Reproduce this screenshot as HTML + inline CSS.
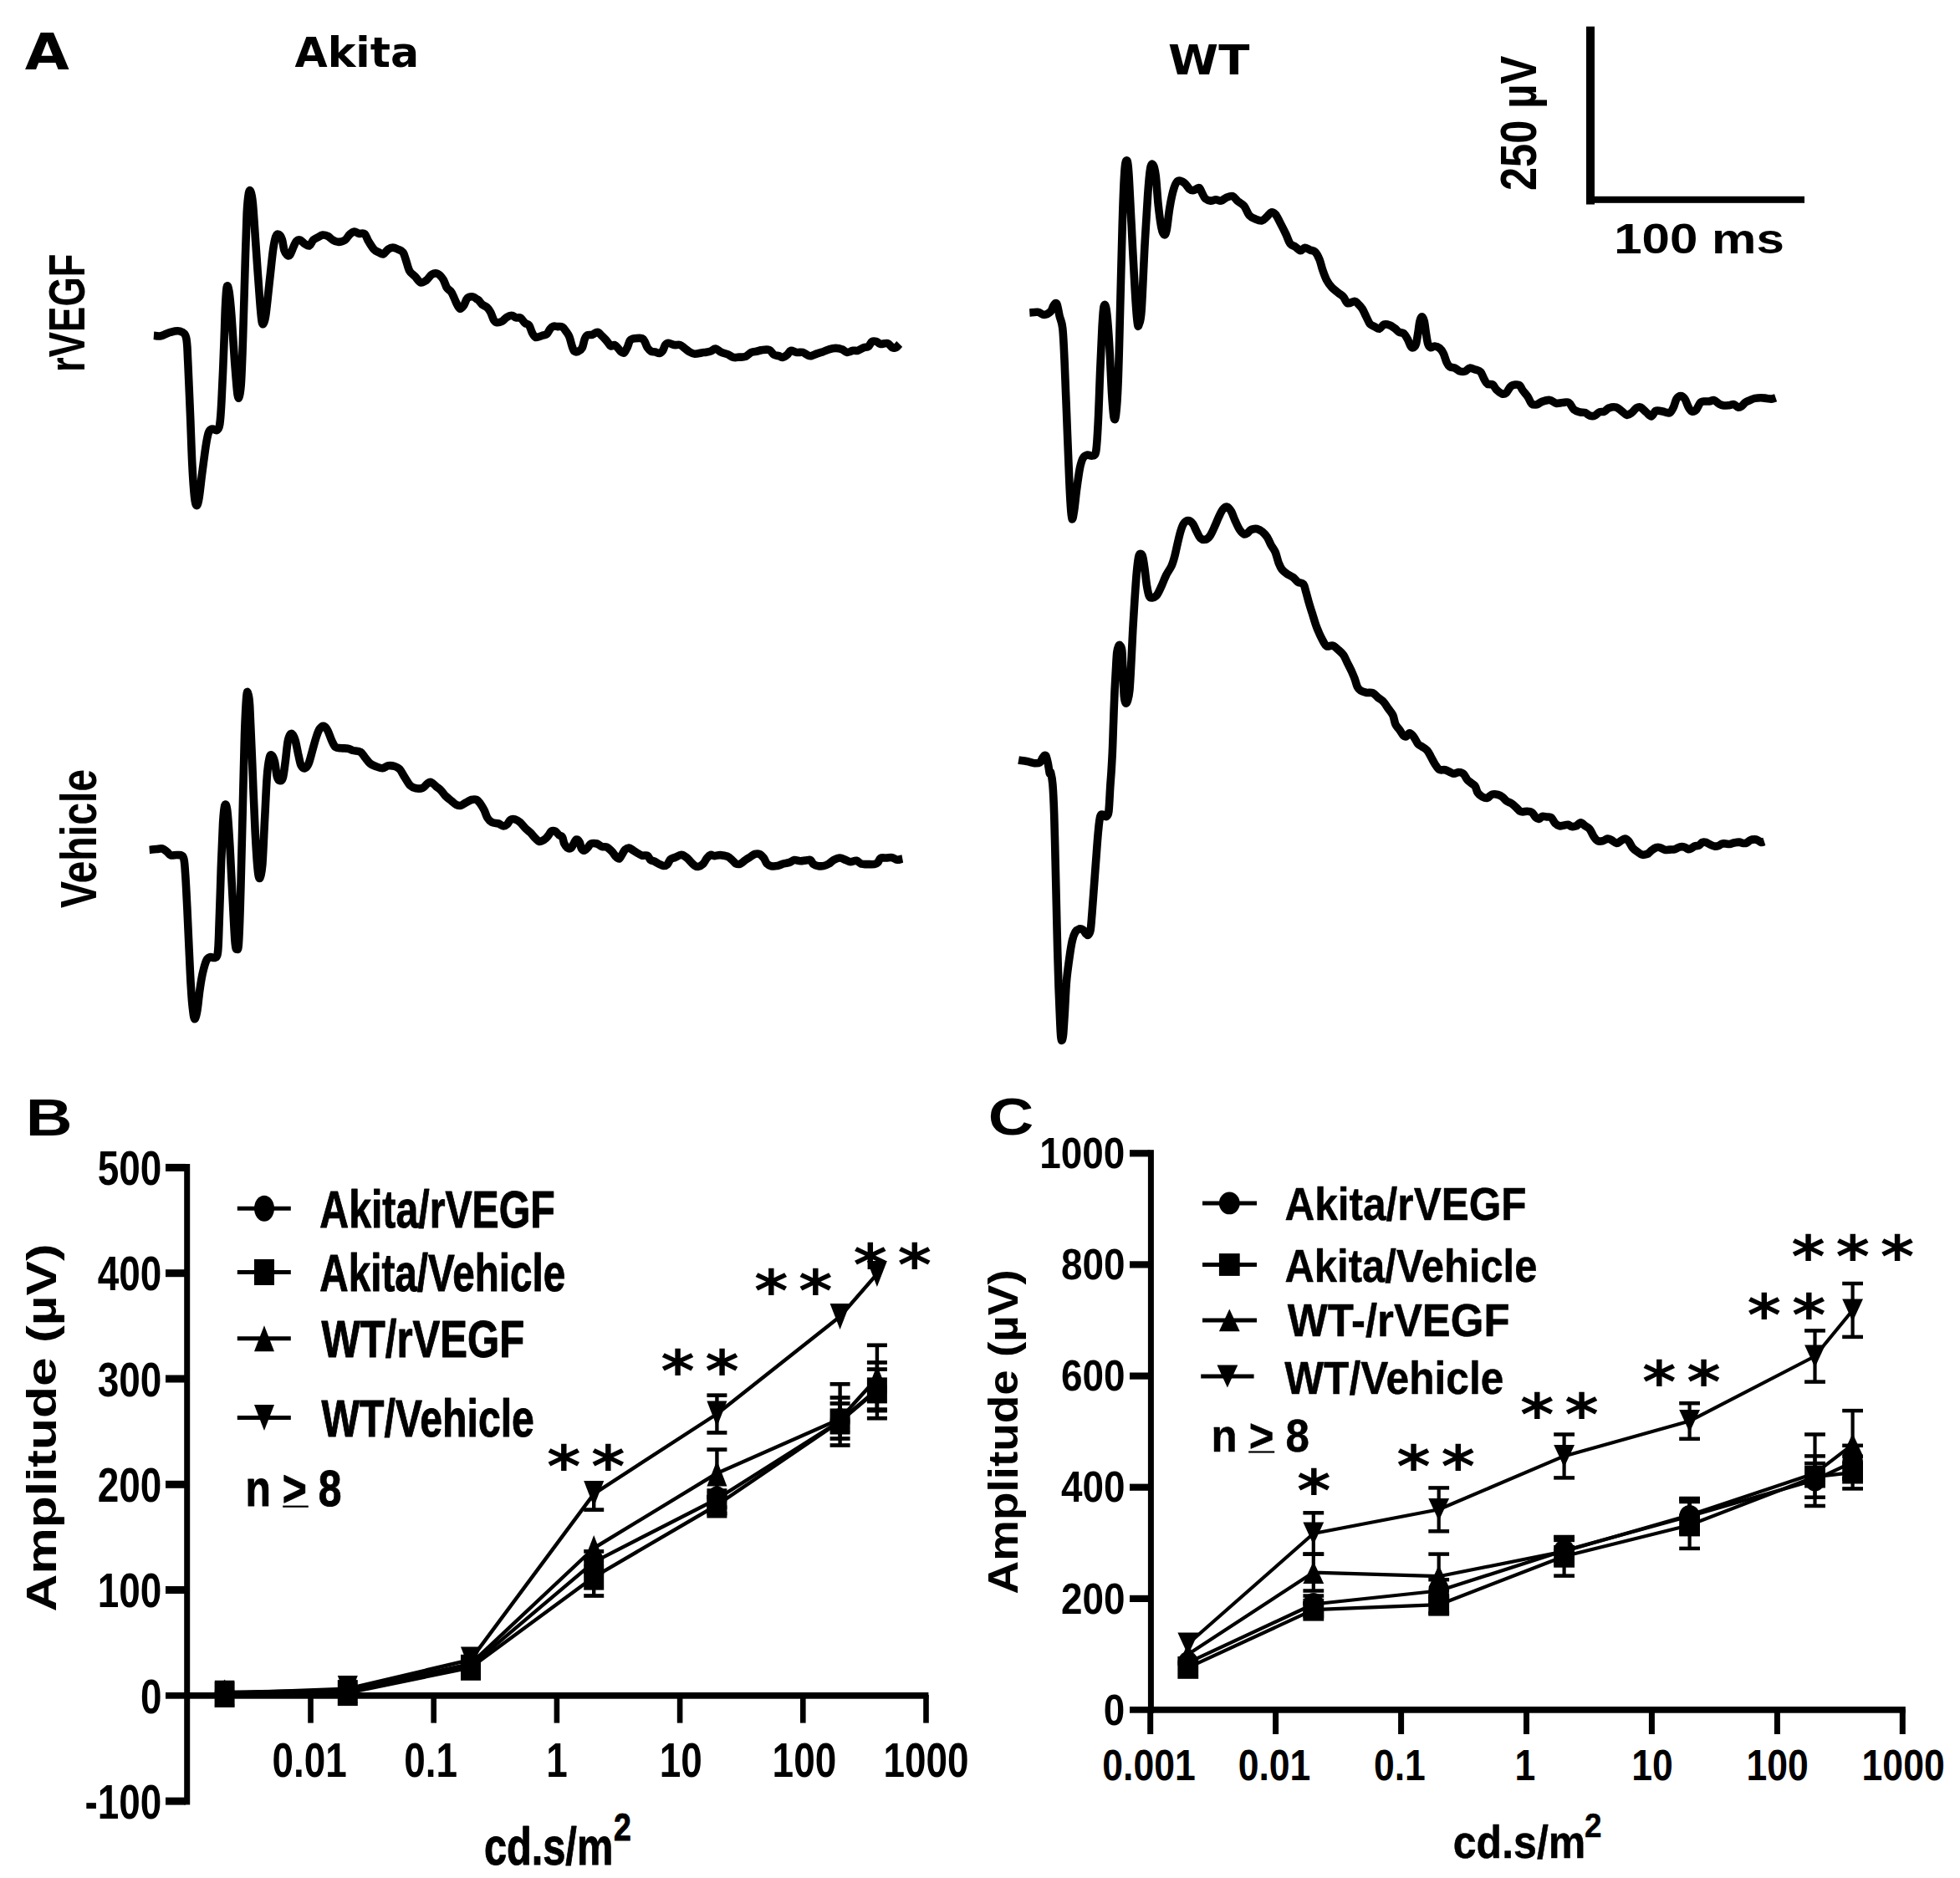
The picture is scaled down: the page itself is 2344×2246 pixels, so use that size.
<!DOCTYPE html>
<html><head><meta charset="utf-8"><title>Figure</title>
<style>
html,body{margin:0;padding:0;background:#fff;}
svg{display:block;}
text{fill:#000;}
</style></head>
<body>
<svg width="2344" height="2246" viewBox="0 0 2344 2246">
<rect x="0" y="0" width="2344" height="2246" fill="#fff"/>
<text x="29.7" y="82.6" font-family='"DejaVu Sans", "Liberation Sans", sans-serif' font-size="61.0" font-weight="bold" textLength="53.1" lengthAdjust="spacingAndGlyphs">A</text>
<text x="352.5" y="80.0" font-family='"DejaVu Sans", "Liberation Sans", sans-serif' font-size="49.2" font-weight="bold" textLength="148.6" lengthAdjust="spacingAndGlyphs">Akita</text>
<text x="1397.1" y="89.0" font-family='"DejaVu Sans", "Liberation Sans", sans-serif' font-size="49.0" font-weight="bold" textLength="97.3" lengthAdjust="spacingAndGlyphs">WT</text>
<text x="101.2" y="444.9" font-family='"Liberation Sans", sans-serif' font-size="62.0" font-weight="bold" textLength="141.5" lengthAdjust="spacingAndGlyphs" transform="rotate(-90 101.2 444.9)">rVEGF</text>
<text x="115.0" y="1086.1" font-family='"Liberation Sans", sans-serif' font-size="61.5" font-weight="bold" textLength="166.3" lengthAdjust="spacingAndGlyphs" transform="rotate(-90 115.0 1086.1)">Vehicle</text>
<rect x="1897.0" y="31.7" width="10.0" height="212.8" fill="#000"/>
<rect x="1897.0" y="234.8" width="261.0" height="8.0" fill="#000"/>
<text x="1837.5" y="228.1" font-family='"Liberation Sans", sans-serif' font-size="62.0" font-weight="bold" textLength="161.3" lengthAdjust="spacingAndGlyphs" transform="rotate(-90 1837.5 228.1)">250 µV</text>
<text x="1930.2" y="303.3" font-family='"Liberation Sans", sans-serif' font-size="50.8" font-weight="bold" textLength="203.6" lengthAdjust="spacingAndGlyphs">100 ms</text>
<path d="M183.9,401.2C185.3,401.3 189.1,402.5 192.4,401.8C195.6,401.2 199.8,398.3 203.5,397.4C207.3,396.4 211.6,395.0 214.7,396.0C217.9,397.0 220.9,397.1 222.5,403.4C224.2,409.7 223.9,417.4 224.8,433.6C225.6,449.8 226.8,480.2 227.7,500.7C228.5,521.2 229.1,540.9 229.9,556.6C230.7,572.2 231.7,586.6 232.6,594.6C233.5,602.6 234.4,604.6 235.3,604.6C236.2,604.6 237.2,600.7 238.2,594.6C239.2,588.4 240.2,577.8 241.5,567.7C242.9,557.7 244.7,542.6 246.0,534.2C247.3,525.8 248.1,521.0 249.4,517.4C250.7,513.9 252.2,513.4 253.8,513.0C255.5,512.5 257.9,515.5 259.4,514.5C260.9,513.6 261.9,513.4 262.8,507.4C263.7,501.3 264.2,494.3 265.0,478.3C265.9,462.3 267.2,429.9 267.9,411.2C268.7,392.6 268.9,377.9 269.5,366.5C270.1,355.1 270.5,346.0 271.3,343.0C272.0,340.1 273.0,342.8 274.0,348.6C274.9,354.4 275.8,363.5 276.9,377.7C278.0,391.9 279.5,417.9 280.7,433.6C281.9,449.2 283.1,464.9 284.0,471.6C285.0,478.3 285.5,476.4 286.3,473.8C287.0,471.2 287.8,468.2 288.5,455.9C289.2,443.7 290.0,422.4 290.7,400.1C291.5,377.7 292.2,346.0 293.0,321.8C293.7,297.6 294.5,269.8 295.2,254.7C296.0,239.6 296.7,235.5 297.4,231.2C298.2,227.0 298.9,227.0 299.7,229.0C300.5,231.1 301.2,231.8 302.4,243.5C303.5,255.3 305.0,279.7 306.4,299.4C307.8,319.2 309.7,347.9 310.9,362.0C312.0,376.2 312.4,380.3 313.1,384.4C313.8,388.5 314.5,388.1 315.3,386.6C316.2,385.1 316.9,383.3 318.0,375.5C319.1,367.6 320.6,352.4 322.0,339.7C323.5,327.0 325.2,308.9 326.5,299.4C327.8,289.9 328.7,285.8 329.9,282.7C331.0,279.5 332.0,279.9 333.2,280.4C334.4,281.0 336.1,282.9 337.2,286.0C338.4,289.2 338.9,296.3 339.9,299.4C340.9,302.6 342.2,304.1 343.3,305.0C344.4,306.0 345.3,306.7 346.6,305.0C347.9,303.3 349.8,297.8 351.1,295.0C352.4,292.2 353.2,289.6 354.5,288.3C355.8,287.0 357.3,286.6 358.9,287.1C360.6,287.7 362.7,290.5 364.5,291.6C366.4,292.7 368.4,294.6 370.1,293.8C371.8,293.1 372.9,288.8 374.6,287.1C376.3,285.5 378.3,284.8 380.2,283.8C382.0,282.8 383.7,281.3 385.8,281.1C387.8,280.9 390.4,281.7 392.5,282.7C394.5,283.7 396.0,286.0 398.1,287.1C400.1,288.3 402.3,289.4 404.8,289.4C407.2,289.4 410.4,288.6 412.6,287.1C414.8,285.6 416.3,282.1 418.2,280.4C420.0,278.8 421.9,277.3 423.8,277.1C425.6,276.9 427.3,278.9 429.4,279.3C431.4,279.8 434.2,278.3 436.1,279.8C437.9,281.3 438.7,285.2 440.5,288.3C442.4,291.3 445.2,296.1 447.2,298.3C449.3,300.6 451.0,300.7 452.8,301.7C454.7,302.6 456.6,304.5 458.4,303.9C460.3,303.3 462.2,299.6 464.0,298.3C465.9,297.0 467.6,296.1 469.6,296.1C471.7,296.1 474.3,297.4 476.3,298.3C478.4,299.2 480.4,299.6 481.9,301.7C483.4,303.7 484.0,306.9 485.3,310.6C486.6,314.3 487.9,320.7 489.7,324.0C491.6,327.4 494.2,328.4 496.4,330.7C498.7,333.0 500.9,337.1 503.1,337.9C505.4,338.6 507.6,336.8 509.9,335.2C512.1,333.6 514.3,329.4 516.6,328.1C518.8,326.8 521.0,326.4 523.3,327.4C525.5,328.4 528.1,331.3 530.0,334.1C531.8,336.9 532.8,341.5 534.4,344.2C536.1,346.8 538.2,346.8 540.0,349.7C541.9,352.7 544.0,358.8 545.6,362.0C547.3,365.3 548.6,368.6 550.1,369.2C551.6,369.8 553.1,367.5 554.6,365.4C556.1,363.3 557.2,358.2 559.0,356.5C560.9,354.7 563.9,354.7 565.8,354.9C567.6,355.1 568.9,356.9 570.0,357.6C571.1,358.2 571.0,357.8 572.1,358.9C573.3,360.0 575.1,362.9 576.7,364.3C578.4,365.7 580.4,365.8 582.1,367.3C583.8,368.9 585.3,370.9 586.7,373.5C588.1,376.0 589.2,380.6 590.5,382.7C591.8,384.7 592.7,385.5 594.3,385.7C596.0,386.0 598.5,385.2 600.5,384.2C602.4,383.2 603.9,380.7 605.8,379.6C607.7,378.4 610.0,377.2 611.9,377.3C613.9,377.3 615.5,379.4 617.3,379.9C619.1,380.4 620.9,379.3 622.7,380.4C624.4,381.5 626.4,385.1 628.0,386.5C629.7,387.9 631.2,386.9 632.6,388.8C634.0,390.7 635.2,395.5 636.4,398.0C637.7,400.4 638.9,402.6 640.3,403.3C641.7,404.1 643.3,402.9 644.8,402.6C646.4,402.2 647.9,401.5 649.4,401.0C651.0,400.5 652.6,400.8 654.0,399.5C655.4,398.2 656.6,394.9 657.9,393.4C659.1,391.8 660.2,390.8 661.7,390.3C663.2,389.8 665.3,390.5 667.0,390.6C668.8,390.7 670.7,390.1 672.4,391.1C674.1,392.0 675.6,394.5 677.0,396.4C678.4,398.3 679.7,399.7 680.8,402.6C682.0,405.4 682.9,410.3 683.9,413.3C684.9,416.2 685.7,419.0 686.9,420.2C688.2,421.3 690.0,420.8 691.5,420.2C693.1,419.5 694.8,418.8 696.1,416.3C697.4,413.9 698.2,408.2 699.2,405.6C700.2,403.1 700.7,401.9 702.2,401.0C703.8,400.1 706.3,400.9 708.4,400.3C710.4,399.6 712.7,397.1 714.5,397.2C716.3,397.3 717.6,399.6 719.1,401.0C720.6,402.4 722.3,404.1 723.7,405.6C725.1,407.1 726.4,408.8 727.5,410.2C728.6,411.6 729.3,413.6 730.6,414.0C731.8,414.4 733.8,412.1 735.2,412.5C736.6,412.9 737.7,414.9 739.0,416.3C740.3,417.7 741.5,420.0 742.8,420.9C744.1,421.8 745.4,422.7 746.6,421.7C747.9,420.7 749.3,417.2 750.5,414.8C751.6,412.4 752.1,408.8 753.5,407.1C754.9,405.5 756.5,405.2 758.9,404.8C761.3,404.5 766.0,404.2 768.1,404.8C770.1,405.5 770.1,406.9 771.1,408.7C772.1,410.5 772.9,413.6 774.2,415.6C775.5,417.5 777.2,419.3 778.8,420.2C780.3,421.0 781.7,420.5 783.4,420.9C785.0,421.3 787.2,422.7 788.7,422.4C790.3,422.2 791.4,421.0 792.6,419.4C793.7,417.7 794.5,414.0 795.6,412.5C796.8,411.0 797.7,410.2 799.4,410.2C801.2,410.2 804.0,412.1 806.3,412.5C808.6,412.9 811.2,411.9 813.2,412.5C815.3,413.1 816.7,414.9 818.6,416.3C820.5,417.7 822.7,419.8 824.7,420.9C826.7,422.1 828.3,423.1 830.8,423.2C833.4,423.3 838.0,422.0 840.0,421.7C842.0,421.4 841.2,421.7 842.9,421.4C844.5,421.1 847.9,420.7 850.0,420.0C852.1,419.3 853.6,416.9 855.7,417.1C857.9,417.4 860.5,420.4 862.9,421.4C865.2,422.5 867.6,422.6 870.0,423.6C872.4,424.6 874.8,426.8 877.1,427.4C879.5,428.0 881.9,427.3 884.3,427.1C886.7,427.0 889.0,427.4 891.4,426.4C893.8,425.5 896.2,422.5 898.6,421.4C901.0,420.4 903.6,420.5 905.7,420.0C907.9,419.5 909.0,418.8 911.4,418.6C913.8,418.3 917.6,417.6 920.0,418.6C922.4,419.5 923.8,423.1 925.7,424.3C927.6,425.5 929.8,425.2 931.4,425.7C933.1,426.2 934.0,427.7 935.7,427.4C937.4,427.2 939.8,425.6 941.4,424.3C943.1,422.9 943.8,419.8 945.7,419.3C947.6,418.8 950.5,421.1 952.9,421.4C955.2,421.8 957.9,420.9 960.0,421.4C962.1,422.0 964.0,423.9 965.7,424.6C967.4,425.3 968.1,426.0 970.0,425.7C971.9,425.4 974.8,423.7 977.1,422.9C979.5,422.0 981.9,421.5 984.3,420.7C986.7,419.9 988.9,418.6 991.4,417.9C993.9,417.1 996.7,416.4 999.3,416.4C1001.9,416.4 1004.9,417.0 1007.1,417.9C1009.4,418.7 1010.7,421.2 1012.9,421.4C1015.0,421.7 1017.9,419.6 1020.0,419.3C1022.1,418.9 1023.6,419.9 1025.7,419.3C1027.9,418.7 1030.7,416.5 1032.9,415.7C1035.0,414.9 1036.9,415.5 1038.6,414.3C1040.2,413.1 1041.2,409.5 1042.9,408.6C1044.5,407.6 1046.9,408.1 1048.6,408.6C1050.2,409.0 1050.7,411.1 1052.9,411.4C1055.0,411.8 1059.0,410.0 1061.4,410.7C1063.8,411.4 1065.5,414.9 1067.1,415.7C1068.8,416.5 1070.0,416.4 1071.4,415.7C1072.9,415.0 1075.0,412.1 1075.7,411.4" fill="none" stroke="#000" stroke-width="9.6" stroke-linejoin="round" stroke-linecap="butt"/>
<path d="M1231.3,374.0C1232.9,373.9 1238.4,372.8 1241.3,373.3C1244.2,373.7 1246.3,376.6 1248.8,376.5C1251.3,376.4 1254.4,374.6 1256.3,372.8C1258.2,370.9 1258.8,366.8 1260.1,365.2C1261.3,363.7 1262.6,361.2 1263.8,363.2C1265.0,365.3 1265.9,372.8 1267.1,377.8C1268.2,382.7 1269.8,383.6 1270.8,392.8C1271.8,402.0 1272.3,415.7 1273.1,432.8C1273.9,449.9 1274.7,474.5 1275.6,495.4C1276.4,516.3 1277.3,540.5 1278.1,558.0C1278.8,575.5 1279.4,590.1 1280.1,600.5C1280.7,611.0 1281.3,618.9 1282.1,620.6C1282.8,622.2 1283.7,616.4 1284.6,610.6C1285.5,604.7 1286.5,593.9 1287.6,585.5C1288.7,577.2 1290.1,566.7 1291.3,560.5C1292.6,554.2 1293.6,550.7 1295.1,548.0C1296.6,545.3 1298.2,544.7 1300.1,544.2C1302.0,543.7 1304.6,545.6 1306.4,545.0C1308.1,544.3 1309.5,546.6 1310.6,540.5C1311.7,534.3 1312.3,523.8 1313.1,507.9C1314.0,492.1 1314.8,465.0 1315.6,445.3C1316.5,425.7 1317.4,403.4 1318.1,390.3C1318.9,377.1 1319.3,369.8 1320.1,366.5C1321.0,363.2 1322.1,363.4 1323.1,370.3C1324.2,377.1 1325.3,391.1 1326.4,407.8C1327.5,424.5 1328.7,455.1 1329.6,470.4C1330.6,485.6 1331.3,495.0 1332.1,499.2C1333.0,503.3 1333.8,502.3 1334.6,495.4C1335.5,488.5 1336.3,478.7 1337.1,457.9C1338.0,437.0 1338.8,401.5 1339.6,370.3C1340.5,339.0 1341.3,297.2 1342.2,270.1C1343.0,243.0 1343.8,220.6 1344.7,207.5C1345.5,194.5 1346.3,192.4 1347.2,192.0C1348.0,191.6 1348.7,192.0 1349.7,205.0C1350.7,218.1 1351.9,246.8 1353.2,270.1C1354.4,293.5 1356.0,326.0 1357.2,345.2C1358.3,364.4 1359.3,378.2 1360.2,385.3C1361.0,392.4 1361.3,390.3 1362.2,387.8C1363.0,385.3 1364.1,385.7 1365.2,370.3C1366.3,354.8 1367.7,318.1 1368.9,295.2C1370.2,272.2 1371.6,248.2 1372.7,232.6C1373.8,216.9 1374.7,207.2 1375.7,201.3C1376.7,195.4 1377.9,195.6 1378.9,197.0C1380.0,198.5 1381.2,202.0 1382.2,210.1C1383.2,218.1 1384.1,234.7 1385.2,245.1C1386.3,255.5 1387.8,266.7 1389.0,272.6C1390.1,278.6 1391.2,280.2 1392.2,280.6C1393.3,281.1 1394.1,280.6 1395.2,275.1C1396.3,269.6 1397.5,255.9 1399.0,247.6C1400.4,239.3 1402.3,230.3 1404.0,225.1C1405.6,219.9 1406.9,217.4 1409.0,216.3C1411.1,215.3 1414.2,217.1 1416.5,218.8C1418.8,220.5 1420.9,224.9 1422.8,226.3C1424.6,227.8 1425.9,227.9 1427.8,227.6C1429.6,227.3 1432.3,223.9 1434.0,224.6C1435.7,225.2 1436.5,229.2 1437.8,231.3C1439.0,233.5 1439.9,236.1 1441.5,237.6C1443.2,239.0 1445.7,239.9 1447.8,240.1C1449.9,240.3 1452.0,238.8 1454.0,238.8C1456.1,238.8 1458.2,240.5 1460.3,240.1C1462.4,239.7 1464.3,237.3 1466.6,236.3C1468.9,235.4 1471.8,233.9 1474.1,234.6C1476.4,235.3 1478.0,238.6 1480.3,240.6C1482.6,242.5 1485.5,243.5 1487.8,246.3C1490.1,249.2 1491.8,255.0 1494.1,257.6C1496.4,260.2 1499.1,261.1 1501.6,262.1C1504.1,263.2 1506.8,264.4 1509.1,263.9C1511.4,263.3 1513.5,260.5 1515.4,258.9C1517.2,257.2 1518.7,254.3 1520.4,253.9C1522.0,253.4 1523.5,254.1 1525.4,256.4C1527.3,258.7 1529.6,263.7 1531.6,267.6C1533.7,271.6 1536.0,276.2 1537.9,280.1C1539.8,284.1 1541.0,288.9 1542.9,291.4C1544.8,293.9 1547.1,293.8 1549.2,295.2C1551.2,296.5 1553.5,299.5 1555.4,299.7C1557.3,299.9 1558.5,296.5 1560.4,296.4C1562.3,296.3 1564.6,298.1 1566.7,298.9C1568.8,299.7 1571.1,299.5 1572.9,301.4C1574.8,303.3 1576.5,306.6 1577.9,310.2C1579.4,313.7 1580.2,318.5 1581.7,322.7C1583.2,326.9 1584.8,331.7 1586.7,335.2C1588.6,338.8 1590.7,341.5 1593.0,344.0C1595.3,346.5 1598.2,348.3 1600.5,350.2C1602.8,352.1 1604.9,353.1 1606.7,355.2C1608.6,357.3 1609.5,361.9 1611.7,362.7C1614.0,363.6 1618.0,360.2 1620.0,360.2C1622.0,360.3 1622.2,361.4 1623.7,362.9C1625.2,364.3 1627.4,366.4 1629.0,369.0C1630.7,371.5 1632.1,375.1 1633.6,378.2C1635.2,381.2 1636.6,385.3 1638.2,387.3C1639.9,389.4 1641.7,389.4 1643.6,390.4C1645.5,391.4 1647.8,393.5 1649.7,393.2C1651.6,392.8 1653.0,388.8 1655.1,388.1C1657.1,387.4 1659.8,388.1 1661.9,388.9C1664.1,389.6 1666.1,391.3 1668.1,392.7C1670.0,394.1 1671.6,396.3 1673.4,397.3C1675.2,398.3 1677.1,397.4 1678.8,398.8C1680.4,400.2 1682.0,403.2 1683.4,405.7C1684.8,408.3 1686.0,412.5 1687.2,414.1C1688.3,415.8 1689.2,416.0 1690.3,415.7C1691.3,415.3 1692.4,414.5 1693.3,411.8C1694.2,409.2 1694.8,404.2 1695.6,399.6C1696.4,395.0 1697.1,387.7 1697.9,384.3C1698.7,380.8 1699.6,378.9 1700.5,378.9C1701.4,378.9 1702.4,380.8 1703.3,384.3C1704.1,387.7 1704.8,395.0 1705.6,399.6C1706.3,404.2 1707.0,409.2 1707.9,411.8C1708.8,414.5 1709.6,415.3 1710.9,415.7C1712.2,416.0 1713.7,414.0 1715.5,414.1C1717.3,414.3 1719.8,415.0 1721.6,416.4C1723.4,417.8 1724.8,419.7 1726.2,422.6C1727.6,425.4 1728.8,430.6 1730.1,433.3C1731.3,435.9 1732.2,437.5 1733.9,438.6C1735.5,439.8 1738.0,439.3 1740.0,440.2C1742.0,441.0 1744.1,443.3 1746.1,444.0C1748.2,444.6 1750.3,444.6 1752.2,444.0C1754.2,443.3 1755.6,440.5 1757.6,440.2C1759.6,439.8 1762.3,441.4 1764.5,442.1C1766.7,442.9 1768.8,442.8 1770.6,444.7C1772.4,446.7 1773.8,451.5 1775.2,453.9C1776.6,456.4 1777.4,458.3 1779.0,459.3C1780.7,460.3 1783.4,458.9 1785.2,460.1C1786.9,461.2 1788.0,464.4 1789.7,466.2C1791.5,468.0 1794.0,470.1 1795.9,470.8C1797.8,471.4 1799.3,471.5 1801.2,470.0C1803.1,468.5 1804.8,463.2 1807.3,461.6C1809.9,460.0 1814.2,459.6 1816.5,460.5C1818.8,461.4 1819.3,464.6 1821.1,466.9C1822.9,469.3 1825.5,471.9 1827.2,474.6C1829.0,477.3 1830.1,481.5 1831.8,483.0C1833.6,484.5 1835.9,484.2 1838.0,483.8C1840.0,483.3 1841.5,481.3 1844.1,480.4C1846.6,479.5 1850.5,478.1 1853.3,478.4C1856.1,478.7 1858.4,481.7 1860.9,482.2C1863.5,482.8 1866.0,481.6 1868.6,481.5C1871.1,481.4 1873.9,480.1 1876.2,481.5C1878.5,482.9 1880.1,488.0 1882.3,489.9C1884.6,491.8 1887.8,492.3 1890.0,493.0C1892.2,493.6 1893.8,492.9 1895.7,493.6C1897.6,494.3 1899.5,496.5 1901.4,497.1C1903.3,497.7 1905.2,497.9 1907.1,497.1C1909.0,496.4 1911.0,493.7 1912.9,492.9C1914.8,492.0 1916.7,493.0 1918.6,492.1C1920.5,491.3 1921.9,488.7 1924.3,487.9C1926.7,487.0 1930.2,486.4 1932.9,487.1C1935.5,487.9 1937.9,490.6 1940.0,492.1C1942.1,493.7 1943.8,496.2 1945.7,496.4C1947.6,496.7 1949.5,495.0 1951.4,493.6C1953.3,492.1 1955.4,488.9 1957.1,487.9C1958.9,486.8 1960.2,486.3 1962.1,487.1C1964.0,488.0 1966.4,491.1 1968.6,492.9C1970.7,494.6 1973.1,498.1 1975.0,497.9C1976.9,497.6 1978.2,492.5 1980.0,491.4C1981.8,490.4 1983.8,491.2 1985.7,491.4C1987.6,491.7 1989.5,492.5 1991.4,492.9C1993.3,493.2 1995.5,494.5 1997.1,493.6C1998.8,492.6 2000.1,489.9 2001.4,487.1C2002.7,484.4 2003.6,479.4 2005.0,477.1C2006.4,474.9 2008.3,473.6 2010.0,473.6C2011.7,473.6 2013.5,474.9 2015.0,477.1C2016.5,479.4 2017.9,484.6 2019.3,487.1C2020.7,489.6 2022.0,491.7 2023.6,492.1C2025.1,492.6 2026.9,491.8 2028.6,490.0C2030.2,488.2 2031.9,483.1 2033.6,481.4C2035.2,479.8 2036.8,480.2 2038.6,480.0C2040.4,479.8 2042.4,480.2 2044.3,480.0C2046.2,479.8 2048.1,478.1 2050.0,478.6C2051.9,479.0 2053.8,481.8 2055.7,482.9C2057.6,483.9 2059.3,484.7 2061.4,485.0C2063.6,485.3 2066.5,484.8 2068.6,484.6C2070.6,484.3 2071.9,483.1 2073.6,483.6C2075.2,484.0 2077.0,486.8 2078.6,487.1C2080.1,487.5 2081.4,486.7 2082.9,485.7C2084.3,484.8 2085.5,482.6 2087.1,481.4C2088.8,480.2 2091.0,479.4 2092.9,478.6C2094.8,477.7 2096.4,476.9 2098.6,476.4C2100.7,476.0 2103.3,475.7 2105.7,475.7C2108.1,475.7 2110.7,476.2 2112.9,476.4C2115.0,476.7 2116.8,477.3 2118.6,477.1C2120.4,477.0 2122.7,476.0 2123.6,475.7" fill="none" stroke="#000" stroke-width="9.6" stroke-linejoin="round" stroke-linecap="butt"/>
<path d="M178.7,1016.5C180.1,1016.4 184.6,1015.9 187.2,1015.6C189.7,1015.3 191.9,1014.4 194.0,1014.9C196.1,1015.5 198.0,1017.5 199.8,1018.8C201.5,1020.2 202.2,1022.3 204.3,1022.9C206.4,1023.5 209.9,1022.1 212.4,1022.5C214.8,1022.9 217.7,1021.7 219.2,1025.2C220.8,1028.7 220.8,1033.6 221.5,1043.5C222.3,1053.5 223.0,1069.5 223.8,1084.8C224.6,1100.0 225.3,1119.1 226.1,1135.1C226.9,1151.2 227.6,1168.7 228.4,1180.9C229.1,1193.1 229.9,1202.1 230.7,1208.4C231.4,1214.7 232.1,1218.7 233.0,1218.7C233.8,1218.7 235.0,1213.9 235.9,1208.4C236.9,1202.9 237.7,1192.8 238.7,1185.5C239.7,1178.3 240.8,1171.0 242.1,1164.9C243.5,1158.8 245.2,1152.2 246.7,1148.9C248.2,1145.5 249.6,1145.3 251.3,1144.7C253.0,1144.2 255.5,1146.3 257.0,1145.4C258.5,1144.6 259.6,1146.0 260.4,1139.7C261.3,1133.4 261.4,1124.4 262.0,1107.7C262.7,1090.9 263.6,1059.6 264.3,1039.0C265.1,1018.4 265.9,996.7 266.6,984.0C267.4,971.3 268.0,965.2 268.9,962.9C269.8,960.7 270.9,962.2 271.9,970.3C272.9,978.4 273.8,994.3 274.9,1011.5C275.9,1028.7 277.0,1054.2 278.1,1073.3C279.1,1092.4 280.2,1115.7 281.0,1126.0C281.9,1136.3 282.6,1135.1 283.3,1135.1C284.1,1135.1 284.9,1138.2 285.6,1126.0C286.4,1113.8 287.2,1087.8 287.9,1061.9C288.7,1035.9 289.4,1000.8 290.2,970.3C291.0,939.7 291.7,901.6 292.5,878.7C293.3,855.8 294.1,841.1 294.8,832.9C295.5,824.7 296.0,827.6 296.6,829.5C297.3,831.4 297.8,830.4 298.7,844.3C299.5,858.3 300.6,888.2 301.7,913.0C302.7,937.8 304.0,972.2 305.1,993.2C306.2,1014.2 307.1,1029.4 308.1,1039.0C309.0,1048.5 309.9,1051.2 310.8,1050.4C311.8,1049.6 312.8,1045.8 313.8,1034.4C314.7,1022.9 315.6,999.3 316.5,981.7C317.5,964.2 318.3,941.7 319.3,929.1C320.2,916.5 321.3,910.4 322.3,906.2C323.3,901.9 324.2,902.7 325.2,903.4C326.3,904.2 327.4,906.5 328.4,910.7C329.5,915.0 330.4,925.2 331.4,929.1C332.4,932.9 333.3,933.4 334.4,933.6C335.5,933.8 337.1,934.0 338.3,930.2C339.4,926.4 340.3,917.8 341.3,910.7C342.2,903.7 343.1,893.2 344.0,887.8C344.9,882.5 345.8,880.3 346.8,878.7C347.7,877.1 348.7,877.1 349.7,878.2C350.8,879.4 352.0,881.7 353.2,885.6C354.3,889.5 355.5,896.6 356.6,901.6C357.8,906.5 358.7,912.5 360.0,915.3C361.4,918.2 363.1,919.1 364.6,918.8C366.1,918.4 367.7,916.7 369.2,913.0C370.7,909.4 372.3,902.3 373.8,897.0C375.3,891.7 376.9,885.3 378.4,881.0C379.8,876.7 381.0,873.5 382.5,871.4C384.0,869.3 385.9,867.9 387.5,868.4C389.1,868.8 390.6,871.2 392.1,874.1C393.6,877.0 395.1,882.3 396.7,885.6C398.2,888.8 399.3,892.0 401.3,893.6C403.2,895.1 405.6,894.4 408.1,894.7C410.6,895.0 413.8,894.7 416.1,895.2C418.4,895.6 419.4,896.8 421.9,897.5C424.3,898.2 428.5,897.8 431.0,899.3C433.5,900.7 434.8,903.9 436.7,906.2C438.7,908.5 440.4,911.3 442.5,913.0C444.6,914.8 446.9,915.5 449.3,916.5C451.8,917.4 454.9,918.9 457.3,918.8C459.8,918.6 461.7,916.2 464.2,915.8C466.7,915.4 469.9,915.8 472.2,916.5C474.5,917.2 476.0,917.8 478.0,919.9C479.9,922.0 481.6,925.8 483.7,929.1C485.8,932.3 488.3,937.1 490.5,939.4C492.8,941.7 494.9,942.3 497.4,942.8C499.9,943.3 503.1,943.3 505.4,942.3C507.7,941.4 509.4,938.2 511.2,937.1C512.9,935.9 514.0,934.9 515.7,935.5C517.5,936.0 519.6,938.9 521.5,940.5C523.4,942.1 525.3,943.2 527.2,945.1C529.1,947.0 530.8,949.9 532.9,952.0C535.0,954.1 537.7,956.0 539.8,957.7C541.9,959.4 543.6,961.3 545.5,962.3C547.4,963.2 549.3,963.8 551.2,963.4C553.1,963.0 554.9,961.1 556.9,960.0C559.0,958.8 561.6,957.1 563.8,956.5C566.0,956.0 568.2,955.8 570.0,956.5C571.8,957.3 573.0,959.2 574.5,961.2C576.0,963.3 577.7,966.1 579.1,968.9C580.5,971.7 581.4,975.6 582.9,978.1C584.4,980.5 586.1,982.3 588.3,983.4C590.4,984.6 593.6,984.2 595.9,984.9C598.2,985.7 600.3,987.9 602.0,988.0C603.8,988.1 605.2,987.0 606.6,985.7C608.0,984.4 608.9,981.3 610.5,980.4C612.0,979.4 613.9,979.4 615.8,979.9C617.7,980.4 619.9,981.7 621.9,983.4C624.0,985.2 626.0,988.3 628.1,990.3C630.1,992.3 632.1,993.6 634.2,995.7C636.2,997.7 638.5,1000.8 640.3,1002.6C642.1,1004.3 643.1,1006.1 644.9,1006.4C646.7,1006.6 649.2,1005.2 651.0,1004.1C652.8,1002.9 654.2,1001.1 655.6,999.5C657.0,997.8 658.0,995.0 659.4,994.1C660.8,993.2 662.5,993.4 664.0,994.1C665.6,994.9 667.2,997.6 668.6,998.7C670.0,999.9 671.4,999.4 672.4,1001.0C673.5,1002.7 673.7,1006.5 674.7,1008.7C675.8,1010.8 677.2,1013.1 678.6,1014.0C680.0,1014.9 681.9,1014.9 683.2,1014.0C684.4,1013.1 685.2,1010.3 686.2,1008.7C687.2,1007.0 688.1,1004.3 689.3,1004.1C690.4,1003.8 692.1,1005.4 693.1,1007.1C694.1,1008.9 694.4,1013.1 695.4,1014.8C696.4,1016.5 698.0,1017.3 699.2,1017.1C700.5,1016.8 701.8,1014.6 703.1,1013.3C704.3,1011.9 705.1,1009.7 706.9,1009.0C708.7,1008.3 711.6,1008.4 713.8,1009.0C715.9,1009.6 717.9,1011.8 719.9,1012.5C721.9,1013.2 724.0,1012.2 726.0,1013.3C728.1,1014.3 730.4,1016.7 732.1,1018.6C733.9,1020.5 735.3,1023.3 736.7,1024.7C738.1,1026.1 739.4,1027.4 740.6,1027.0C741.7,1026.7 742.5,1024.2 743.6,1022.4C744.8,1020.7 746.0,1017.7 747.4,1016.3C748.9,1014.9 750.4,1013.9 752.0,1014.0C753.7,1014.2 755.5,1015.9 757.4,1017.1C759.3,1018.2 761.7,1019.9 763.5,1020.9C765.3,1021.9 766.3,1022.8 768.1,1023.2C769.9,1023.6 772.6,1022.3 774.2,1023.2C775.9,1024.1 776.7,1027.4 778.1,1028.6C779.5,1029.7 781.0,1029.3 782.7,1030.1C784.3,1030.9 786.2,1032.3 788.0,1033.2C789.8,1034.1 791.7,1035.3 793.4,1035.5C795.0,1035.6 796.6,1035.2 798.0,1033.9C799.4,1032.7 800.3,1029.2 801.8,1027.8C803.3,1026.4 805.0,1026.4 807.1,1025.5C809.3,1024.6 812.5,1022.4 814.8,1022.4C817.1,1022.4 819.1,1024.2 820.9,1025.5C822.7,1026.8 824.0,1028.6 825.5,1030.1C827.0,1031.6 828.6,1033.6 830.1,1034.7C831.6,1035.8 832.9,1036.8 834.7,1036.5C836.5,1036.3 839.0,1034.9 840.8,1033.2C842.6,1031.5 843.9,1028.1 845.4,1026.3C846.9,1024.5 848.5,1022.9 850.0,1022.4C851.5,1022.0 852.4,1023.6 854.3,1023.6C856.2,1023.6 858.8,1022.5 861.4,1022.6C864.0,1022.7 867.6,1023.3 870.0,1024.3C872.4,1025.3 874.0,1027.1 875.7,1028.6C877.4,1030.0 878.3,1032.1 880.0,1032.9C881.7,1033.6 883.8,1033.6 885.7,1032.9C887.6,1032.1 889.5,1029.9 891.4,1028.6C893.3,1027.3 895.2,1026.2 897.1,1025.0C899.0,1023.8 901.0,1022.0 902.9,1021.4C904.8,1020.9 906.8,1020.9 908.6,1021.7C910.4,1022.5 912.1,1024.6 913.6,1026.4C915.0,1028.3 915.7,1031.3 917.1,1032.9C918.6,1034.4 920.0,1035.3 922.1,1035.7C924.3,1036.1 927.5,1035.9 930.0,1035.4C932.5,1035.0 934.8,1033.5 937.1,1032.9C939.5,1032.2 942.1,1032.1 944.3,1031.4C946.4,1030.7 947.9,1028.9 950.0,1028.6C952.1,1028.3 954.8,1029.7 957.1,1029.7C959.5,1029.8 962.3,1029.0 964.3,1028.9C966.3,1028.7 967.9,1027.8 969.3,1028.6C970.7,1029.4 971.3,1032.4 972.9,1033.6C974.4,1034.8 976.4,1035.4 978.6,1035.7C980.7,1036.0 983.6,1035.9 985.7,1035.4C987.9,1035.0 989.5,1034.0 991.4,1032.9C993.3,1031.7 995.0,1029.7 997.1,1028.6C999.3,1027.4 1001.9,1026.0 1004.3,1026.0C1006.7,1026.0 1009.3,1027.8 1011.4,1028.6C1013.6,1029.4 1015.0,1030.6 1017.1,1030.7C1019.3,1030.8 1022.1,1028.9 1024.3,1029.3C1026.4,1029.7 1027.9,1032.4 1030.0,1033.1C1032.1,1033.9 1034.5,1033.5 1037.1,1033.6C1039.8,1033.6 1043.6,1033.9 1045.7,1033.6C1047.9,1033.2 1048.8,1032.6 1050.0,1031.4C1051.2,1030.2 1051.2,1027.3 1052.9,1026.4C1054.5,1025.5 1057.6,1026.1 1060.0,1026.0C1062.4,1025.9 1065.0,1025.3 1067.1,1025.7C1069.3,1026.1 1070.8,1028.1 1072.9,1028.3C1074.9,1028.5 1078.2,1027.1 1079.3,1026.9" fill="none" stroke="#000" stroke-width="9.6" stroke-linejoin="round" stroke-linecap="butt"/>
<path d="M1218.1,909.0C1219.8,909.3 1224.9,909.9 1228.1,910.5C1231.3,911.1 1234.6,912.4 1237.2,912.7C1239.7,912.9 1241.8,913.0 1243.5,911.9C1245.2,910.8 1245.9,907.3 1247.1,906.0C1248.3,904.6 1249.7,902.2 1250.7,903.6C1251.8,905.0 1252.7,910.5 1253.5,914.1C1254.2,917.7 1254.8,923.4 1255.3,925.0C1255.8,926.5 1255.9,921.4 1256.5,923.6C1257.1,925.8 1258.2,929.7 1258.9,938.1C1259.6,946.6 1260.2,959.2 1260.7,974.3C1261.2,989.4 1261.7,1010.5 1262.1,1028.6C1262.6,1046.7 1263.0,1064.8 1263.4,1083.0C1263.8,1101.1 1264.2,1120.7 1264.7,1137.3C1265.1,1153.9 1265.6,1169.0 1266.1,1182.5C1266.6,1196.1 1267.1,1209.1 1267.6,1218.8C1268.0,1228.4 1268.4,1236.3 1268.8,1240.5C1269.3,1244.7 1269.7,1244.7 1270.1,1244.1C1270.6,1243.5 1271.0,1242.6 1271.6,1236.9C1272.1,1231.1 1272.7,1220.3 1273.4,1209.7C1274.0,1199.1 1274.6,1184.0 1275.5,1173.5C1276.4,1162.9 1277.7,1154.5 1278.8,1146.3C1279.9,1138.2 1281.2,1129.9 1282.4,1124.6C1283.6,1119.3 1284.7,1116.9 1286.0,1114.6C1287.4,1112.4 1289.1,1111.5 1290.6,1111.0C1292.1,1110.6 1293.8,1111.0 1295.1,1111.9C1296.4,1112.8 1297.3,1115.4 1298.4,1116.5C1299.4,1117.5 1300.5,1119.0 1301.4,1118.3C1302.4,1117.5 1303.4,1116.3 1304.2,1111.9C1304.9,1107.5 1305.2,1101.4 1306.0,1092.0C1306.7,1082.7 1307.8,1067.9 1308.7,1055.8C1309.6,1043.7 1310.6,1030.1 1311.4,1019.6C1312.2,1009.0 1312.8,999.7 1313.6,992.4C1314.3,985.2 1314.9,979.1 1315.9,976.1C1316.9,973.1 1318.3,974.3 1319.5,974.3C1320.7,974.4 1322.1,977.1 1323.2,976.5C1324.2,975.9 1325.1,976.5 1325.9,970.7C1326.6,964.9 1327.2,949.6 1327.7,941.7C1328.2,933.9 1328.5,930.9 1329.0,923.6C1329.4,916.3 1330.0,908.1 1330.4,897.8C1330.9,887.5 1331.2,873.7 1331.7,861.6C1332.1,849.5 1332.6,835.9 1333.1,825.4C1333.6,814.8 1334.1,805.8 1334.6,798.2C1335.0,790.7 1335.3,784.3 1335.8,780.1C1336.4,775.9 1337.0,774.2 1337.6,772.9C1338.3,771.5 1338.8,771.1 1339.5,772.0C1340.2,772.9 1341.2,772.4 1341.8,778.3C1342.4,784.2 1342.7,798.2 1343.1,807.3C1343.5,816.3 1343.8,827.0 1344.3,832.6C1344.9,838.2 1345.5,839.9 1346.2,840.8C1346.9,841.7 1347.7,840.6 1348.5,838.1C1349.3,835.5 1350.1,833.5 1350.9,825.4C1351.6,817.2 1352.4,801.2 1353.0,789.2C1353.7,777.1 1354.2,765.0 1354.8,753.0C1355.5,740.9 1356.3,728.2 1357.0,716.7C1357.8,705.3 1358.6,692.6 1359.4,684.2C1360.2,675.7 1361.0,669.7 1361.7,666.0C1362.5,662.4 1363.1,662.4 1363.9,662.4C1364.7,662.4 1365.8,663.0 1366.6,666.0C1367.5,669.1 1368.2,674.8 1369.0,680.5C1369.8,686.3 1370.6,695.0 1371.5,700.4C1372.4,705.9 1373.3,710.7 1374.4,713.1C1375.6,715.5 1376.8,715.2 1378.4,714.9C1380.0,714.6 1382.0,713.7 1383.8,711.3C1385.6,708.9 1387.4,704.4 1389.3,700.4C1391.1,696.5 1392.7,691.7 1394.7,687.8C1396.6,683.8 1399.4,680.5 1401.0,676.9C1402.7,673.3 1403.4,670.6 1404.6,666.0C1405.8,661.5 1407.1,654.9 1408.3,649.8C1409.5,644.6 1410.7,639.2 1411.9,635.3C1413.1,631.3 1414.0,628.3 1415.5,626.2C1417.0,624.1 1419.1,622.6 1420.9,622.6C1422.7,622.6 1424.7,624.1 1426.4,626.2C1428.0,628.3 1429.4,632.4 1430.9,635.3C1432.4,638.1 1433.6,641.8 1435.4,643.4C1437.2,645.1 1439.8,645.7 1441.8,645.2C1443.7,644.8 1445.4,643.3 1447.2,640.7C1449.0,638.1 1450.8,633.8 1452.6,629.8C1454.4,625.9 1456.4,620.6 1458.1,617.2C1459.7,613.7 1460.9,610.8 1462.6,609.0C1464.2,607.2 1466.4,605.8 1468.0,606.3C1469.7,606.7 1471.0,609.0 1472.5,611.7C1474.0,614.4 1475.4,619.0 1477.1,622.6C1478.7,626.2 1480.7,630.7 1482.5,633.5C1484.3,636.2 1486.3,638.3 1487.9,638.9C1489.6,639.5 1491.1,638.0 1492.5,637.1C1493.8,636.2 1494.3,634.2 1496.1,633.5C1497.9,632.7 1501.0,632.1 1503.3,632.5C1505.6,633.0 1508.0,634.5 1510.0,636.2C1512.1,637.9 1513.8,640.0 1515.6,642.7C1517.3,645.4 1518.7,649.4 1520.3,652.3C1521.9,655.2 1523.7,656.8 1525.1,660.3C1526.6,663.7 1527.8,669.6 1529.1,673.1C1530.5,676.5 1531.4,678.8 1533.1,681.0C1534.9,683.3 1537.3,685.0 1539.5,686.6C1541.8,688.2 1544.6,689.0 1546.7,690.6C1548.8,692.2 1550.3,694.9 1552.3,696.2C1554.3,697.5 1557.1,696.6 1558.7,698.6C1560.3,700.6 1560.7,704.2 1561.9,708.2C1563.1,712.2 1564.5,718.0 1565.9,722.6C1567.2,727.1 1568.5,731.1 1569.9,735.3C1571.2,739.6 1572.5,744.4 1573.9,748.1C1575.2,751.8 1576.4,754.5 1577.8,757.7C1579.3,760.9 1581.2,764.8 1582.6,767.3C1584.1,769.8 1584.8,772.1 1586.6,772.9C1588.5,773.7 1591.6,771.4 1593.8,772.1C1596.1,772.7 1598.1,775.0 1600.2,776.9C1602.3,778.7 1604.7,780.6 1606.6,783.3C1608.5,785.9 1609.8,789.6 1611.4,792.8C1613.0,796.0 1614.7,799.2 1616.2,802.4C1617.6,805.6 1619.0,808.8 1620.2,812.0C1621.4,815.2 1622.2,819.2 1623.4,821.6C1624.6,823.9 1625.6,824.9 1627.4,826.1C1629.1,827.2 1631.4,827.8 1633.7,828.3C1636.1,828.8 1639.3,827.8 1641.7,828.8C1644.1,829.8 1646.0,832.6 1648.1,834.4C1650.3,836.1 1652.5,837.0 1654.5,839.2C1656.5,841.3 1658.2,844.5 1660.1,847.1C1662.0,849.8 1664.2,851.9 1665.7,855.1C1667.2,858.3 1667.6,863.4 1668.9,866.3C1670.2,869.2 1672.1,870.4 1673.7,872.7C1675.3,875.0 1677.1,878.6 1678.5,879.9C1679.8,881.2 1680.5,881.2 1681.7,880.7C1682.9,880.2 1684.2,876.7 1685.7,876.7C1687.1,876.7 1688.7,878.5 1690.4,880.7C1692.2,882.9 1694.3,887.9 1696.0,890.0C1697.7,892.0 1698.8,891.6 1700.6,892.9C1702.4,894.1 1704.9,895.4 1706.7,897.4C1708.5,899.5 1709.8,902.4 1711.3,905.1C1712.9,907.8 1714.3,911.0 1715.9,913.5C1717.6,916.1 1719.2,919.2 1721.3,920.4C1723.3,921.6 1726.0,920.2 1728.2,920.7C1730.3,921.2 1732.5,922.7 1734.3,923.5C1736.1,924.2 1737.1,925.3 1738.9,925.3C1740.7,925.3 1743.1,923.4 1745.0,923.5C1746.9,923.5 1748.7,924.2 1750.4,925.8C1752.0,927.3 1753.4,930.9 1754.9,932.7C1756.5,934.4 1758.0,935.2 1759.5,936.5C1761.1,937.8 1762.9,938.4 1764.1,940.3C1765.4,942.2 1765.8,945.9 1767.2,948.0C1768.6,950.1 1770.6,951.8 1772.6,952.9C1774.5,953.9 1776.8,954.8 1778.7,954.4C1780.6,954.0 1782.0,950.9 1784.0,950.3C1786.1,949.6 1788.8,949.7 1790.9,950.3C1793.1,950.8 1795.3,952.0 1797.0,953.3C1798.8,954.6 1799.8,956.6 1801.6,957.9C1803.4,959.2 1805.8,959.7 1807.8,961.0C1809.7,962.2 1811.5,964.0 1813.1,965.6C1814.8,967.1 1816.3,969.3 1817.7,970.2C1819.1,971.0 1820.0,970.9 1821.5,970.9C1823.1,970.9 1825.1,970.0 1826.9,970.2C1828.7,970.3 1830.6,970.4 1832.2,971.7C1833.9,973.0 1835.4,976.5 1836.8,977.8C1838.2,979.1 1839.4,979.6 1840.7,979.3C1841.9,979.1 1843.0,976.7 1844.5,976.3C1846.0,975.9 1848.1,976.8 1849.8,977.0C1851.6,977.3 1853.5,976.5 1855.2,977.8C1856.9,979.1 1858.1,983.0 1859.8,984.7C1861.5,986.4 1863.4,987.4 1865.2,987.8C1866.9,988.1 1868.9,987.2 1870.5,987.0C1872.2,986.7 1873.6,986.0 1875.1,986.2C1876.6,986.5 1878.0,988.3 1879.7,988.5C1881.4,988.8 1883.3,988.5 1885.1,987.8C1886.8,987.0 1888.6,983.9 1890.4,983.9C1892.2,983.9 1894.0,986.5 1895.8,987.8C1897.6,989.0 1899.5,989.5 1901.1,991.6C1902.8,993.6 1904.2,997.7 1905.7,1000.0C1907.2,1002.3 1908.5,1004.4 1910.3,1005.4C1912.1,1006.3 1914.4,1006.2 1916.4,1005.8C1918.5,1005.4 1920.8,1003.3 1922.6,1003.1C1924.3,1002.9 1925.4,1003.7 1927.1,1004.6C1928.9,1005.5 1931.5,1008.2 1933.3,1008.4C1935.1,1008.7 1936.2,1007.0 1937.9,1006.1C1939.5,1005.2 1941.6,1003.1 1943.2,1003.1C1944.9,1003.1 1946.3,1004.3 1947.8,1006.1C1949.3,1007.9 1950.7,1011.7 1952.4,1013.8C1954.1,1015.8 1955.8,1017.0 1957.8,1018.4C1959.7,1019.8 1961.8,1021.7 1963.9,1022.2C1965.9,1022.7 1968.7,1021.8 1970.0,1021.4C1971.3,1021.1 1970.7,1021.0 1971.6,1020.2C1972.6,1019.4 1974.2,1017.7 1975.7,1016.6C1977.2,1015.5 1979.3,1014.1 1980.8,1013.6C1982.3,1013.1 1983.2,1013.1 1984.9,1013.6C1986.6,1014.0 1989.0,1015.9 1991.0,1016.3C1993.1,1016.8 1995.1,1016.2 1997.1,1016.1C1999.2,1016.0 2001.4,1016.1 2003.3,1015.6C2005.1,1015.1 2006.5,1013.5 2008.4,1013.1C2010.2,1012.6 2012.8,1012.6 2014.5,1013.1C2016.2,1013.5 2017.2,1015.4 2018.6,1015.6C2019.9,1015.9 2021.3,1015.2 2022.7,1014.6C2024.0,1014.0 2025.2,1012.6 2026.7,1012.0C2028.3,1011.4 2030.3,1011.8 2031.8,1011.0C2033.4,1010.3 2034.6,1008.0 2035.9,1007.4C2037.3,1006.9 2038.5,1007.0 2040.0,1007.4C2041.5,1007.9 2043.4,1009.2 2045.1,1010.0C2046.8,1010.8 2048.5,1011.8 2050.2,1012.0C2051.9,1012.3 2053.8,1012.0 2055.3,1011.5C2056.8,1011.0 2058.0,1009.4 2059.4,1009.0C2060.7,1008.6 2061.9,1008.9 2063.5,1009.0C2065.0,1009.1 2066.9,1009.7 2068.6,1009.5C2070.3,1009.3 2071.8,1008.4 2073.7,1008.0C2075.5,1007.6 2077.9,1007.1 2079.8,1007.1C2081.7,1007.2 2083.4,1008.3 2084.9,1008.5C2086.4,1008.6 2087.6,1008.6 2089.0,1008.0C2090.3,1007.4 2091.5,1005.6 2093.1,1004.9C2094.6,1004.2 2096.6,1003.9 2098.2,1003.9C2099.7,1003.9 2100.9,1004.3 2102.2,1004.9C2103.6,1005.5 2105.1,1007.2 2106.3,1007.4C2107.6,1007.7 2109.3,1006.6 2109.9,1006.4" fill="none" stroke="#000" stroke-width="9.6" stroke-linejoin="round" stroke-linecap="butt"/>
<rect x="220.2" y="1392.0" width="7.0" height="766.4" fill="#000"/>
<rect x="198.0" y="2024.0" width="912.4" height="7.7" fill="#000"/>
<rect x="198.0" y="1391.9" width="24.0" height="9.0" fill="#000"/>
<rect x="198.0" y="1518.2" width="24.0" height="9.0" fill="#000"/>
<rect x="198.0" y="1644.5" width="24.0" height="9.0" fill="#000"/>
<rect x="198.0" y="1770.8" width="24.0" height="9.0" fill="#000"/>
<rect x="198.0" y="1897.0" width="24.0" height="9.0" fill="#000"/>
<rect x="198.0" y="2149.6" width="24.0" height="9.0" fill="#000"/>
<rect x="368.2" y="2027.0" width="6.6" height="33.6" fill="#000"/>
<rect x="515.4" y="2027.0" width="6.6" height="33.6" fill="#000"/>
<rect x="662.6" y="2027.0" width="6.6" height="33.6" fill="#000"/>
<rect x="809.8" y="2027.0" width="6.6" height="33.6" fill="#000"/>
<rect x="957.0" y="2027.0" width="6.6" height="33.6" fill="#000"/>
<rect x="1104.2" y="2027.0" width="6.6" height="33.6" fill="#000"/>
<text x="116.8" y="1417.1" font-family='"Liberation Sans", sans-serif' font-size="57.0" font-weight="bold" textLength="76.6" lengthAdjust="spacingAndGlyphs">500</text>
<text x="116.8" y="1543.4" font-family='"Liberation Sans", sans-serif' font-size="57.0" font-weight="bold" textLength="76.6" lengthAdjust="spacingAndGlyphs">400</text>
<text x="116.8" y="1669.7" font-family='"Liberation Sans", sans-serif' font-size="57.0" font-weight="bold" textLength="76.6" lengthAdjust="spacingAndGlyphs">300</text>
<text x="116.8" y="1796.0" font-family='"Liberation Sans", sans-serif' font-size="57.0" font-weight="bold" textLength="76.6" lengthAdjust="spacingAndGlyphs">200</text>
<text x="116.8" y="1922.2" font-family='"Liberation Sans", sans-serif' font-size="57.0" font-weight="bold" textLength="76.6" lengthAdjust="spacingAndGlyphs">100</text>
<text x="168.0" y="2048.5" font-family='"Liberation Sans", sans-serif' font-size="57.0" font-weight="bold" textLength="25.5" lengthAdjust="spacingAndGlyphs">0</text>
<text x="101.5" y="2174.8" font-family='"Liberation Sans", sans-serif' font-size="57.0" font-weight="bold" textLength="91.8" lengthAdjust="spacingAndGlyphs">-100</text>
<text x="325.6" y="2124.5" font-family='"Liberation Sans", sans-serif' font-size="57.0" font-weight="bold" textLength="89.3" lengthAdjust="spacingAndGlyphs">0.01</text>
<text x="483.2" y="2124.5" font-family='"Liberation Sans", sans-serif' font-size="57.0" font-weight="bold" textLength="63.8" lengthAdjust="spacingAndGlyphs">0.1</text>
<text x="653.3" y="2124.5" font-family='"Liberation Sans", sans-serif' font-size="57.0" font-weight="bold" textLength="25.5" lengthAdjust="spacingAndGlyphs">1</text>
<text x="788.8" y="2124.5" font-family='"Liberation Sans", sans-serif' font-size="57.0" font-weight="bold" textLength="51.0" lengthAdjust="spacingAndGlyphs">10</text>
<text x="923.6" y="2124.5" font-family='"Liberation Sans", sans-serif' font-size="57.0" font-weight="bold" textLength="76.6" lengthAdjust="spacingAndGlyphs">100</text>
<text x="1056.4" y="2124.5" font-family='"Liberation Sans", sans-serif' font-size="57.0" font-weight="bold" textLength="102.1" lengthAdjust="spacingAndGlyphs">1000</text>
<polyline points="268.6,2025.3 415.8,2022.7 563.0,1992.4 710.2,1868.1 857.4,1792.7 1004.6,1699.5 1048.9,1661.6" fill="none" stroke="#000" stroke-width="4.4" stroke-linejoin="round"/>
<line x1="710.2" y1="1868.1" x2="710.2" y2="1855.4" stroke="#000" stroke-width="4.4" stroke-linecap="butt"/>
<line x1="698.2" y1="1855.4" x2="722.2" y2="1855.4" stroke="#000" stroke-width="4.7" stroke-linecap="butt"/>
<line x1="710.2" y1="1868.1" x2="710.2" y2="1880.7" stroke="#000" stroke-width="4.4" stroke-linecap="butt"/>
<line x1="698.2" y1="1880.7" x2="722.2" y2="1880.7" stroke="#000" stroke-width="4.7" stroke-linecap="butt"/>
<line x1="857.4" y1="1792.7" x2="857.4" y2="1782.6" stroke="#000" stroke-width="4.4" stroke-linecap="butt"/>
<line x1="845.4" y1="1782.6" x2="869.4" y2="1782.6" stroke="#000" stroke-width="4.7" stroke-linecap="butt"/>
<line x1="857.4" y1="1792.7" x2="857.4" y2="1802.8" stroke="#000" stroke-width="4.4" stroke-linecap="butt"/>
<line x1="845.4" y1="1802.8" x2="869.4" y2="1802.8" stroke="#000" stroke-width="4.7" stroke-linecap="butt"/>
<line x1="1004.6" y1="1699.5" x2="1004.6" y2="1678.5" stroke="#000" stroke-width="4.4" stroke-linecap="butt"/>
<line x1="992.6" y1="1678.5" x2="1016.6" y2="1678.5" stroke="#000" stroke-width="4.7" stroke-linecap="butt"/>
<line x1="1004.6" y1="1699.5" x2="1004.6" y2="1720.5" stroke="#000" stroke-width="4.4" stroke-linecap="butt"/>
<line x1="992.6" y1="1720.5" x2="1016.6" y2="1720.5" stroke="#000" stroke-width="4.7" stroke-linecap="butt"/>
<line x1="1048.9" y1="1661.6" x2="1048.9" y2="1637.6" stroke="#000" stroke-width="4.4" stroke-linecap="butt"/>
<line x1="1036.9" y1="1637.6" x2="1060.9" y2="1637.6" stroke="#000" stroke-width="4.7" stroke-linecap="butt"/>
<line x1="1048.9" y1="1661.6" x2="1048.9" y2="1685.6" stroke="#000" stroke-width="4.4" stroke-linecap="butt"/>
<line x1="1036.9" y1="1685.6" x2="1060.9" y2="1685.6" stroke="#000" stroke-width="4.7" stroke-linecap="butt"/>
<ellipse cx="268.6" cy="2025.3" rx="12.0" ry="15.5" fill="#000"/>
<ellipse cx="415.8" cy="2022.7" rx="12.0" ry="15.5" fill="#000"/>
<ellipse cx="563.0" cy="1992.4" rx="12.0" ry="15.5" fill="#000"/>
<ellipse cx="710.2" cy="1868.1" rx="12.0" ry="15.5" fill="#000"/>
<ellipse cx="857.4" cy="1792.7" rx="12.0" ry="15.5" fill="#000"/>
<ellipse cx="1004.6" cy="1699.5" rx="12.0" ry="15.5" fill="#000"/>
<ellipse cx="1048.9" cy="1661.6" rx="12.0" ry="15.5" fill="#000"/>
<polyline points="268.6,2026.5 415.8,2024.6 563.0,1994.3 710.2,1886.1 857.4,1800.0 1004.6,1700.0 1048.9,1662.9" fill="none" stroke="#000" stroke-width="4.4" stroke-linejoin="round"/>
<line x1="710.2" y1="1886.1" x2="710.2" y2="1863.8" stroke="#000" stroke-width="4.4" stroke-linecap="butt"/>
<line x1="698.2" y1="1863.8" x2="722.2" y2="1863.8" stroke="#000" stroke-width="4.7" stroke-linecap="butt"/>
<line x1="710.2" y1="1886.1" x2="710.2" y2="1908.5" stroke="#000" stroke-width="4.4" stroke-linecap="butt"/>
<line x1="698.2" y1="1908.5" x2="722.2" y2="1908.5" stroke="#000" stroke-width="4.7" stroke-linecap="butt"/>
<line x1="857.4" y1="1800.0" x2="857.4" y2="1789.9" stroke="#000" stroke-width="4.4" stroke-linecap="butt"/>
<line x1="845.4" y1="1789.9" x2="869.4" y2="1789.9" stroke="#000" stroke-width="4.7" stroke-linecap="butt"/>
<line x1="857.4" y1="1800.0" x2="857.4" y2="1810.1" stroke="#000" stroke-width="4.4" stroke-linecap="butt"/>
<line x1="845.4" y1="1810.1" x2="869.4" y2="1810.1" stroke="#000" stroke-width="4.7" stroke-linecap="butt"/>
<line x1="1004.6" y1="1700.0" x2="1004.6" y2="1671.5" stroke="#000" stroke-width="4.4" stroke-linecap="butt"/>
<line x1="992.6" y1="1671.5" x2="1016.6" y2="1671.5" stroke="#000" stroke-width="4.7" stroke-linecap="butt"/>
<line x1="1004.6" y1="1700.0" x2="1004.6" y2="1728.5" stroke="#000" stroke-width="4.4" stroke-linecap="butt"/>
<line x1="992.6" y1="1728.5" x2="1016.6" y2="1728.5" stroke="#000" stroke-width="4.7" stroke-linecap="butt"/>
<line x1="1048.9" y1="1662.9" x2="1048.9" y2="1629.5" stroke="#000" stroke-width="4.4" stroke-linecap="butt"/>
<line x1="1036.9" y1="1629.5" x2="1060.9" y2="1629.5" stroke="#000" stroke-width="4.7" stroke-linecap="butt"/>
<line x1="1048.9" y1="1662.9" x2="1048.9" y2="1696.2" stroke="#000" stroke-width="4.4" stroke-linecap="butt"/>
<line x1="1036.9" y1="1696.2" x2="1060.9" y2="1696.2" stroke="#000" stroke-width="4.7" stroke-linecap="butt"/>
<rect x="256.6" y="2011.0" width="24.0" height="31.0" fill="#000"/>
<rect x="403.8" y="2009.1" width="24.0" height="31.0" fill="#000"/>
<rect x="551.0" y="1978.8" width="24.0" height="31.0" fill="#000"/>
<rect x="698.2" y="1870.6" width="24.0" height="31.0" fill="#000"/>
<rect x="845.4" y="1784.5" width="24.0" height="31.0" fill="#000"/>
<rect x="992.6" y="1684.5" width="24.0" height="31.0" fill="#000"/>
<rect x="1036.9" y="1647.4" width="24.0" height="31.0" fill="#000"/>
<polyline points="268.6,2024.0 415.8,2021.5 563.0,1989.9 710.2,1851.5 857.4,1762.0 1004.6,1697.0 1048.9,1648.0" fill="none" stroke="#000" stroke-width="4.4" stroke-linejoin="round"/>
<line x1="857.4" y1="1762.0" x2="857.4" y2="1733.6" stroke="#000" stroke-width="4.4" stroke-linecap="butt"/>
<line x1="845.4" y1="1733.6" x2="869.4" y2="1733.6" stroke="#000" stroke-width="4.7" stroke-linecap="butt"/>
<line x1="857.4" y1="1762.0" x2="857.4" y2="1790.4" stroke="#000" stroke-width="4.4" stroke-linecap="butt"/>
<line x1="845.4" y1="1790.4" x2="869.4" y2="1790.4" stroke="#000" stroke-width="4.7" stroke-linecap="butt"/>
<line x1="1004.6" y1="1697.0" x2="1004.6" y2="1655.3" stroke="#000" stroke-width="4.4" stroke-linecap="butt"/>
<line x1="992.6" y1="1655.3" x2="1016.6" y2="1655.3" stroke="#000" stroke-width="4.7" stroke-linecap="butt"/>
<line x1="1048.9" y1="1648.0" x2="1048.9" y2="1608.8" stroke="#000" stroke-width="4.4" stroke-linecap="butt"/>
<line x1="1036.9" y1="1608.8" x2="1060.9" y2="1608.8" stroke="#000" stroke-width="4.7" stroke-linecap="butt"/>
<line x1="1048.9" y1="1648.0" x2="1048.9" y2="1687.1" stroke="#000" stroke-width="4.4" stroke-linecap="butt"/>
<line x1="1036.9" y1="1687.1" x2="1060.9" y2="1687.1" stroke="#000" stroke-width="4.7" stroke-linecap="butt"/>
<polygon points="268.6,2008.5 280.6,2039.5 256.6,2039.5" fill="#000"/>
<polygon points="415.8,2006.0 427.8,2037.0 403.8,2037.0" fill="#000"/>
<polygon points="563.0,1974.4 575.0,2005.4 551.0,2005.4" fill="#000"/>
<polygon points="710.2,1836.0 722.2,1867.0 698.2,1867.0" fill="#000"/>
<polygon points="857.4,1746.5 869.4,1777.5 845.4,1777.5" fill="#000"/>
<polygon points="1004.6,1681.5 1016.6,1712.5 992.6,1712.5" fill="#000"/>
<polygon points="1048.9,1632.5 1060.9,1663.5 1036.9,1663.5" fill="#000"/>
<polyline points="268.6,2025.3 415.8,2019.6 563.0,1984.9 710.2,1786.6 857.4,1691.0 1004.6,1574.6 1048.9,1523.5" fill="none" stroke="#000" stroke-width="4.4" stroke-linejoin="round"/>
<line x1="710.2" y1="1786.6" x2="710.2" y2="1805.6" stroke="#000" stroke-width="4.4" stroke-linecap="butt"/>
<line x1="698.2" y1="1805.6" x2="722.2" y2="1805.6" stroke="#000" stroke-width="4.7" stroke-linecap="butt"/>
<line x1="857.4" y1="1691.0" x2="857.4" y2="1668.7" stroke="#000" stroke-width="4.4" stroke-linecap="butt"/>
<line x1="845.4" y1="1668.7" x2="869.4" y2="1668.7" stroke="#000" stroke-width="4.7" stroke-linecap="butt"/>
<line x1="857.4" y1="1691.0" x2="857.4" y2="1713.4" stroke="#000" stroke-width="4.4" stroke-linecap="butt"/>
<line x1="845.4" y1="1713.4" x2="869.4" y2="1713.4" stroke="#000" stroke-width="4.7" stroke-linecap="butt"/>
<polygon points="268.6,2040.8 280.6,2009.8 256.6,2009.8" fill="#000"/>
<polygon points="415.8,2035.1 427.8,2004.1 403.8,2004.1" fill="#000"/>
<polygon points="563.0,2000.4 575.0,1969.4 551.0,1969.4" fill="#000"/>
<polygon points="710.2,1802.1 722.2,1771.1 698.2,1771.1" fill="#000"/>
<polygon points="857.4,1706.5 869.4,1675.5 845.4,1675.5" fill="#000"/>
<polygon points="1004.6,1590.1 1016.6,1559.1 992.6,1559.1" fill="#000"/>
<polygon points="1048.9,1539.0 1060.9,1508.0 1036.9,1508.0" fill="#000"/>
<line x1="283.8" y1="1445.3" x2="347.8" y2="1445.3" stroke="#000" stroke-width="5" stroke-linecap="butt"/>
<ellipse cx="316.0" cy="1445.3" rx="12.0" ry="15.5" fill="#000"/>
<text x="382.3" y="1467.9" font-family='"Liberation Sans", sans-serif' font-size="63.0" font-weight="bold" textLength="281.5" lengthAdjust="spacingAndGlyphs" stroke="#000" stroke-width="1.0" stroke-linejoin="round">Akita/rVEGF</text>
<line x1="283.8" y1="1521.5" x2="347.8" y2="1521.5" stroke="#000" stroke-width="5" stroke-linecap="butt"/>
<rect x="304.0" y="1506.0" width="24.0" height="31.0" fill="#000"/>
<text x="382.3" y="1543.9" font-family='"Liberation Sans", sans-serif' font-size="63.0" font-weight="bold" textLength="293.9" lengthAdjust="spacingAndGlyphs" stroke="#000" stroke-width="1.0" stroke-linejoin="round">Akita/Vehicle</text>
<line x1="283.8" y1="1600.8" x2="347.8" y2="1600.8" stroke="#000" stroke-width="5" stroke-linecap="butt"/>
<polygon points="316.0,1585.3 328.0,1616.3 304.0,1616.3" fill="#000"/>
<text x="384.5" y="1622.9" font-family='"Liberation Sans", sans-serif' font-size="63.0" font-weight="bold" textLength="242.7" lengthAdjust="spacingAndGlyphs" stroke="#000" stroke-width="1.0" stroke-linejoin="round">WT/rVEGF</text>
<line x1="283.8" y1="1695.6" x2="347.8" y2="1695.6" stroke="#000" stroke-width="5" stroke-linecap="butt"/>
<polygon points="316.0,1711.1 328.0,1680.1 304.0,1680.1" fill="#000"/>
<text x="384.5" y="1717.7" font-family='"Liberation Sans", sans-serif' font-size="63.0" font-weight="bold" textLength="254.4" lengthAdjust="spacingAndGlyphs" stroke="#000" stroke-width="1.0" stroke-linejoin="round">WT/Vehicle</text>
<text x="293.6" y="1801.4" font-family='"Liberation Sans", sans-serif' font-size="61.5" font-weight="bold" textLength="114.8" lengthAdjust="spacingAndGlyphs" stroke="#000" stroke-width="1.0" stroke-linejoin="round">n &gt; 8</text>
<rect x="338.2" y="1800.6" width="30.6" height="2.2" fill="#000"/>
<text x="67.0" y="1927.5" font-family='"Liberation Sans", sans-serif' font-size="50.0" font-weight="bold" textLength="440.3" lengthAdjust="spacingAndGlyphs" transform="rotate(-90 67.0 1927.5)">Amplitude (µV)</text>
<text x="578.9" y="2230.2" font-family='"Liberation Sans", sans-serif' font-size="63.3" font-weight="bold" textLength="154.3" lengthAdjust="spacingAndGlyphs" stroke="#000" stroke-width="1.0" stroke-linejoin="round">cd.s/m</text>
<text x="733.9" y="2200.8" font-family='"Liberation Sans", sans-serif' font-size="47.0" font-weight="bold" textLength="20.8" lengthAdjust="spacingAndGlyphs" stroke="#000" stroke-width="1.0" stroke-linejoin="round">2</text>
<text x="30.7" y="1357.7" font-family='"Liberation Sans", sans-serif' font-size="62.4" font-weight="bold" textLength="55.8" lengthAdjust="spacingAndGlyphs">B</text>
<text x="654.1" y="1777.5" font-family='"DejaVu Sans", "Liberation Sans", sans-serif' font-size="69.4" font-weight="bold" textLength="40.6" lengthAdjust="spacingAndGlyphs">*</text>
<text x="707.1" y="1777.5" font-family='"DejaVu Sans", "Liberation Sans", sans-serif' font-size="69.4" font-weight="bold" textLength="40.6" lengthAdjust="spacingAndGlyphs">*</text>
<text x="790.3" y="1663.5" font-family='"DejaVu Sans", "Liberation Sans", sans-serif' font-size="69.4" font-weight="bold" textLength="40.6" lengthAdjust="spacingAndGlyphs">*</text>
<text x="843.3" y="1663.5" font-family='"DejaVu Sans", "Liberation Sans", sans-serif' font-size="69.4" font-weight="bold" textLength="40.6" lengthAdjust="spacingAndGlyphs">*</text>
<text x="901.9" y="1567.7" font-family='"DejaVu Sans", "Liberation Sans", sans-serif' font-size="69.4" font-weight="bold" textLength="40.6" lengthAdjust="spacingAndGlyphs">*</text>
<text x="954.9" y="1567.7" font-family='"DejaVu Sans", "Liberation Sans", sans-serif' font-size="69.4" font-weight="bold" textLength="40.6" lengthAdjust="spacingAndGlyphs">*</text>
<text x="1020.4" y="1536.8" font-family='"DejaVu Sans", "Liberation Sans", sans-serif' font-size="69.4" font-weight="bold" textLength="40.6" lengthAdjust="spacingAndGlyphs">*</text>
<text x="1073.4" y="1536.8" font-family='"DejaVu Sans", "Liberation Sans", sans-serif' font-size="69.4" font-weight="bold" textLength="40.6" lengthAdjust="spacingAndGlyphs">*</text>
<rect x="1372.9" y="1375.2" width="7.0" height="673.6" fill="#000"/>
<rect x="1351.0" y="2041.0" width="927.8" height="7.7" fill="#000"/>
<rect x="1351.0" y="1375.2" width="24.0" height="8.2" fill="#000"/>
<rect x="1351.0" y="1508.3" width="24.0" height="8.2" fill="#000"/>
<rect x="1351.0" y="1641.5" width="24.0" height="8.2" fill="#000"/>
<rect x="1351.0" y="1774.6" width="24.0" height="8.2" fill="#000"/>
<rect x="1351.0" y="1907.8" width="24.0" height="8.2" fill="#000"/>
<rect x="1372.2" y="2044.0" width="7.0" height="30.0" fill="#000"/>
<rect x="1522.1" y="2044.0" width="7.0" height="30.0" fill="#000"/>
<rect x="1672.1" y="2044.0" width="7.0" height="30.0" fill="#000"/>
<rect x="1822.0" y="2044.0" width="7.0" height="30.0" fill="#000"/>
<rect x="1971.9" y="2044.0" width="7.0" height="30.0" fill="#000"/>
<rect x="2121.9" y="2044.0" width="7.0" height="30.0" fill="#000"/>
<rect x="2271.8" y="2044.0" width="7.0" height="30.0" fill="#000"/>
<text x="1243.3" y="1397.0" font-family='"Liberation Sans", sans-serif' font-size="51.5" font-weight="bold" textLength="102.0" lengthAdjust="spacingAndGlyphs">1000</text>
<text x="1268.9" y="1530.1" font-family='"Liberation Sans", sans-serif' font-size="51.5" font-weight="bold" textLength="76.5" lengthAdjust="spacingAndGlyphs">800</text>
<text x="1268.9" y="1663.2" font-family='"Liberation Sans", sans-serif' font-size="51.5" font-weight="bold" textLength="76.5" lengthAdjust="spacingAndGlyphs">600</text>
<text x="1268.9" y="1796.4" font-family='"Liberation Sans", sans-serif' font-size="51.5" font-weight="bold" textLength="76.5" lengthAdjust="spacingAndGlyphs">400</text>
<text x="1268.9" y="1929.5" font-family='"Liberation Sans", sans-serif' font-size="51.5" font-weight="bold" textLength="76.5" lengthAdjust="spacingAndGlyphs">200</text>
<text x="1319.8" y="2062.7" font-family='"Liberation Sans", sans-serif' font-size="51.5" font-weight="bold" textLength="25.5" lengthAdjust="spacingAndGlyphs">0</text>
<text x="1318.3" y="2129.3" font-family='"Liberation Sans", sans-serif' font-size="51.5" font-weight="bold" textLength="111.5" lengthAdjust="spacingAndGlyphs">0.001</text>
<text x="1480.7" y="2129.3" font-family='"Liberation Sans", sans-serif' font-size="51.5" font-weight="bold" textLength="86.7" lengthAdjust="spacingAndGlyphs">0.01</text>
<text x="1642.9" y="2129.3" font-family='"Liberation Sans", sans-serif' font-size="51.5" font-weight="bold" textLength="61.9" lengthAdjust="spacingAndGlyphs">0.1</text>
<text x="1811.4" y="2129.3" font-family='"Liberation Sans", sans-serif' font-size="51.5" font-weight="bold" textLength="24.8" lengthAdjust="spacingAndGlyphs">1</text>
<text x="1951.3" y="2129.3" font-family='"Liberation Sans", sans-serif' font-size="51.5" font-weight="bold" textLength="49.5" lengthAdjust="spacingAndGlyphs">10</text>
<text x="2088.5" y="2129.3" font-family='"Liberation Sans", sans-serif' font-size="51.5" font-weight="bold" textLength="74.3" lengthAdjust="spacingAndGlyphs">100</text>
<text x="2226.6" y="2129.3" font-family='"Liberation Sans", sans-serif' font-size="51.5" font-weight="bold" textLength="99.1" lengthAdjust="spacingAndGlyphs">1000</text>
<polyline points="1420.8,1988.4 1570.8,1918.5 1720.7,1902.5 1870.6,1854.6 2020.6,1813.3 2170.5,1770.0 2215.6,1748.7" fill="none" stroke="#000" stroke-width="4.2" stroke-linejoin="round"/>
<line x1="1570.8" y1="1918.5" x2="1570.8" y2="1908.5" stroke="#000" stroke-width="4.2" stroke-linecap="butt"/>
<line x1="1558.4" y1="1908.5" x2="1583.2" y2="1908.5" stroke="#000" stroke-width="4.5" stroke-linecap="butt"/>
<line x1="1570.8" y1="1918.5" x2="1570.8" y2="1928.5" stroke="#000" stroke-width="4.2" stroke-linecap="butt"/>
<line x1="1558.4" y1="1928.5" x2="1583.2" y2="1928.5" stroke="#000" stroke-width="4.5" stroke-linecap="butt"/>
<line x1="1720.7" y1="1902.5" x2="1720.7" y2="1889.2" stroke="#000" stroke-width="4.2" stroke-linecap="butt"/>
<line x1="1708.3" y1="1889.2" x2="1733.1" y2="1889.2" stroke="#000" stroke-width="4.5" stroke-linecap="butt"/>
<line x1="1720.7" y1="1902.5" x2="1720.7" y2="1915.8" stroke="#000" stroke-width="4.2" stroke-linecap="butt"/>
<line x1="1708.3" y1="1915.8" x2="1733.1" y2="1915.8" stroke="#000" stroke-width="4.5" stroke-linecap="butt"/>
<line x1="1870.6" y1="1854.6" x2="1870.6" y2="1838.6" stroke="#000" stroke-width="4.2" stroke-linecap="butt"/>
<line x1="1858.2" y1="1838.6" x2="1883.0" y2="1838.6" stroke="#000" stroke-width="4.5" stroke-linecap="butt"/>
<line x1="1870.6" y1="1854.6" x2="1870.6" y2="1870.6" stroke="#000" stroke-width="4.2" stroke-linecap="butt"/>
<line x1="1858.2" y1="1870.6" x2="1883.0" y2="1870.6" stroke="#000" stroke-width="4.5" stroke-linecap="butt"/>
<line x1="2020.6" y1="1813.3" x2="2020.6" y2="1793.3" stroke="#000" stroke-width="4.2" stroke-linecap="butt"/>
<line x1="2008.2" y1="1793.3" x2="2033.0" y2="1793.3" stroke="#000" stroke-width="4.5" stroke-linecap="butt"/>
<line x1="2020.6" y1="1813.3" x2="2020.6" y2="1833.3" stroke="#000" stroke-width="4.2" stroke-linecap="butt"/>
<line x1="2008.2" y1="1833.3" x2="2033.0" y2="1833.3" stroke="#000" stroke-width="4.5" stroke-linecap="butt"/>
<line x1="2170.5" y1="1770.0" x2="2170.5" y2="1750.1" stroke="#000" stroke-width="4.2" stroke-linecap="butt"/>
<line x1="2158.1" y1="1750.1" x2="2182.9" y2="1750.1" stroke="#000" stroke-width="4.5" stroke-linecap="butt"/>
<line x1="2170.5" y1="1770.0" x2="2170.5" y2="1801.0" stroke="#000" stroke-width="4.2" stroke-linecap="butt"/>
<line x1="2158.1" y1="1801.0" x2="2182.9" y2="1801.0" stroke="#000" stroke-width="4.5" stroke-linecap="butt"/>
<line x1="2215.6" y1="1748.7" x2="2215.6" y2="1728.8" stroke="#000" stroke-width="4.2" stroke-linecap="butt"/>
<line x1="2203.2" y1="1728.8" x2="2228.0" y2="1728.8" stroke="#000" stroke-width="4.5" stroke-linecap="butt"/>
<line x1="2215.6" y1="1748.7" x2="2215.6" y2="1768.7" stroke="#000" stroke-width="4.2" stroke-linecap="butt"/>
<line x1="2203.2" y1="1768.7" x2="2228.0" y2="1768.7" stroke="#000" stroke-width="4.5" stroke-linecap="butt"/>
<ellipse cx="1420.8" cy="1988.4" rx="12.4" ry="13.4" fill="#000"/>
<ellipse cx="1570.8" cy="1918.5" rx="12.4" ry="13.4" fill="#000"/>
<ellipse cx="1720.7" cy="1902.5" rx="12.4" ry="13.4" fill="#000"/>
<ellipse cx="1870.6" cy="1854.6" rx="12.4" ry="13.4" fill="#000"/>
<ellipse cx="2020.6" cy="1813.3" rx="12.4" ry="13.4" fill="#000"/>
<ellipse cx="2170.5" cy="1770.0" rx="12.4" ry="13.4" fill="#000"/>
<ellipse cx="2215.6" cy="1748.7" rx="12.4" ry="13.4" fill="#000"/>
<polyline points="1420.8,1994.4 1570.8,1925.2 1720.7,1919.2 1870.6,1861.3 2020.6,1824.0 2170.5,1766.1 2215.6,1761.1" fill="none" stroke="#000" stroke-width="4.2" stroke-linejoin="round"/>
<line x1="1570.8" y1="1925.2" x2="1570.8" y2="1917.2" stroke="#000" stroke-width="4.2" stroke-linecap="butt"/>
<line x1="1558.4" y1="1917.2" x2="1583.2" y2="1917.2" stroke="#000" stroke-width="4.5" stroke-linecap="butt"/>
<line x1="1570.8" y1="1925.2" x2="1570.8" y2="1933.2" stroke="#000" stroke-width="4.2" stroke-linecap="butt"/>
<line x1="1558.4" y1="1933.2" x2="1583.2" y2="1933.2" stroke="#000" stroke-width="4.5" stroke-linecap="butt"/>
<line x1="1720.7" y1="1919.2" x2="1720.7" y2="1909.2" stroke="#000" stroke-width="4.2" stroke-linecap="butt"/>
<line x1="1708.3" y1="1909.2" x2="1733.1" y2="1909.2" stroke="#000" stroke-width="4.5" stroke-linecap="butt"/>
<line x1="1720.7" y1="1919.2" x2="1720.7" y2="1929.2" stroke="#000" stroke-width="4.2" stroke-linecap="butt"/>
<line x1="1708.3" y1="1929.2" x2="1733.1" y2="1929.2" stroke="#000" stroke-width="4.5" stroke-linecap="butt"/>
<line x1="1870.6" y1="1861.3" x2="1870.6" y2="1838.0" stroke="#000" stroke-width="4.2" stroke-linecap="butt"/>
<line x1="1858.2" y1="1838.0" x2="1883.0" y2="1838.0" stroke="#000" stroke-width="4.5" stroke-linecap="butt"/>
<line x1="1870.6" y1="1861.3" x2="1870.6" y2="1884.6" stroke="#000" stroke-width="4.2" stroke-linecap="butt"/>
<line x1="1858.2" y1="1884.6" x2="1883.0" y2="1884.6" stroke="#000" stroke-width="4.5" stroke-linecap="butt"/>
<line x1="2020.6" y1="1824.0" x2="2020.6" y2="1796.0" stroke="#000" stroke-width="4.2" stroke-linecap="butt"/>
<line x1="2008.2" y1="1796.0" x2="2033.0" y2="1796.0" stroke="#000" stroke-width="4.5" stroke-linecap="butt"/>
<line x1="2020.6" y1="1824.0" x2="2020.6" y2="1851.9" stroke="#000" stroke-width="4.2" stroke-linecap="butt"/>
<line x1="2008.2" y1="1851.9" x2="2033.0" y2="1851.9" stroke="#000" stroke-width="4.5" stroke-linecap="butt"/>
<line x1="2170.5" y1="1766.1" x2="2170.5" y2="1741.4" stroke="#000" stroke-width="4.2" stroke-linecap="butt"/>
<line x1="2158.1" y1="1741.4" x2="2182.9" y2="1741.4" stroke="#000" stroke-width="4.5" stroke-linecap="butt"/>
<line x1="2170.5" y1="1766.1" x2="2170.5" y2="1790.7" stroke="#000" stroke-width="4.2" stroke-linecap="butt"/>
<line x1="2158.1" y1="1790.7" x2="2182.9" y2="1790.7" stroke="#000" stroke-width="4.5" stroke-linecap="butt"/>
<line x1="2215.6" y1="1761.1" x2="2215.6" y2="1741.8" stroke="#000" stroke-width="4.2" stroke-linecap="butt"/>
<line x1="2203.2" y1="1741.8" x2="2228.0" y2="1741.8" stroke="#000" stroke-width="4.5" stroke-linecap="butt"/>
<line x1="2215.6" y1="1761.1" x2="2215.6" y2="1780.4" stroke="#000" stroke-width="4.2" stroke-linecap="butt"/>
<line x1="2203.2" y1="1780.4" x2="2228.0" y2="1780.4" stroke="#000" stroke-width="4.5" stroke-linecap="butt"/>
<rect x="1408.4" y="1981.0" width="24.8" height="26.8" fill="#000"/>
<rect x="1558.4" y="1911.8" width="24.8" height="26.8" fill="#000"/>
<rect x="1708.3" y="1905.8" width="24.8" height="26.8" fill="#000"/>
<rect x="1858.2" y="1847.9" width="24.8" height="26.8" fill="#000"/>
<rect x="2008.2" y="1810.6" width="24.8" height="26.8" fill="#000"/>
<rect x="2158.1" y="1752.7" width="24.8" height="26.8" fill="#000"/>
<rect x="2203.2" y="1747.7" width="24.8" height="26.8" fill="#000"/>
<polyline points="1420.8,1978.4 1570.8,1880.6 1720.7,1885.2 1870.6,1855.3 2020.6,1812.0 2170.5,1762.1 2215.6,1727.7" fill="none" stroke="#000" stroke-width="4.2" stroke-linejoin="round"/>
<line x1="1570.8" y1="1880.6" x2="1570.8" y2="1858.6" stroke="#000" stroke-width="4.2" stroke-linecap="butt"/>
<line x1="1558.4" y1="1858.6" x2="1583.2" y2="1858.6" stroke="#000" stroke-width="4.5" stroke-linecap="butt"/>
<line x1="1570.8" y1="1880.6" x2="1570.8" y2="1902.5" stroke="#000" stroke-width="4.2" stroke-linecap="butt"/>
<line x1="1558.4" y1="1902.5" x2="1583.2" y2="1902.5" stroke="#000" stroke-width="4.5" stroke-linecap="butt"/>
<line x1="1720.7" y1="1885.2" x2="1720.7" y2="1858.6" stroke="#000" stroke-width="4.2" stroke-linecap="butt"/>
<line x1="1708.3" y1="1858.6" x2="1733.1" y2="1858.6" stroke="#000" stroke-width="4.5" stroke-linecap="butt"/>
<line x1="1720.7" y1="1885.2" x2="1720.7" y2="1911.9" stroke="#000" stroke-width="4.2" stroke-linecap="butt"/>
<line x1="1708.3" y1="1911.9" x2="1733.1" y2="1911.9" stroke="#000" stroke-width="4.5" stroke-linecap="butt"/>
<line x1="1870.6" y1="1855.3" x2="1870.6" y2="1841.9" stroke="#000" stroke-width="4.2" stroke-linecap="butt"/>
<line x1="1858.2" y1="1841.9" x2="1883.0" y2="1841.9" stroke="#000" stroke-width="4.5" stroke-linecap="butt"/>
<line x1="1870.6" y1="1855.3" x2="1870.6" y2="1868.6" stroke="#000" stroke-width="4.2" stroke-linecap="butt"/>
<line x1="1858.2" y1="1868.6" x2="1883.0" y2="1868.6" stroke="#000" stroke-width="4.5" stroke-linecap="butt"/>
<line x1="2020.6" y1="1812.0" x2="2020.6" y2="1792.0" stroke="#000" stroke-width="4.2" stroke-linecap="butt"/>
<line x1="2008.2" y1="1792.0" x2="2033.0" y2="1792.0" stroke="#000" stroke-width="4.5" stroke-linecap="butt"/>
<line x1="2020.6" y1="1812.0" x2="2020.6" y2="1832.0" stroke="#000" stroke-width="4.2" stroke-linecap="butt"/>
<line x1="2008.2" y1="1832.0" x2="2033.0" y2="1832.0" stroke="#000" stroke-width="4.5" stroke-linecap="butt"/>
<line x1="2170.5" y1="1762.1" x2="2170.5" y2="1715.5" stroke="#000" stroke-width="4.2" stroke-linecap="butt"/>
<line x1="2158.1" y1="1715.5" x2="2182.9" y2="1715.5" stroke="#000" stroke-width="4.5" stroke-linecap="butt"/>
<line x1="2215.6" y1="1727.7" x2="2215.6" y2="1687.1" stroke="#000" stroke-width="4.2" stroke-linecap="butt"/>
<line x1="2203.2" y1="1687.1" x2="2228.0" y2="1687.1" stroke="#000" stroke-width="4.5" stroke-linecap="butt"/>
<line x1="2215.6" y1="1727.7" x2="2215.6" y2="1768.3" stroke="#000" stroke-width="4.2" stroke-linecap="butt"/>
<line x1="2203.2" y1="1768.3" x2="2228.0" y2="1768.3" stroke="#000" stroke-width="4.5" stroke-linecap="butt"/>
<polygon points="1420.8,1965.0 1433.2,1991.8 1408.4,1991.8" fill="#000"/>
<polygon points="1570.8,1867.2 1583.2,1894.0 1558.4,1894.0" fill="#000"/>
<polygon points="1720.7,1871.8 1733.1,1898.6 1708.3,1898.6" fill="#000"/>
<polygon points="1870.6,1841.9 1883.0,1868.7 1858.2,1868.7" fill="#000"/>
<polygon points="2020.6,1798.6 2033.0,1825.4 2008.2,1825.4" fill="#000"/>
<polygon points="2170.5,1748.7 2182.9,1775.5 2158.1,1775.5" fill="#000"/>
<polygon points="2215.6,1714.3 2228.0,1741.1 2203.2,1741.1" fill="#000"/>
<polyline points="1420.8,1966.0 1570.8,1834.0 1720.7,1805.3 1870.6,1741.4 2020.6,1699.5 2170.5,1622.0 2215.6,1567.0" fill="none" stroke="#000" stroke-width="4.2" stroke-linejoin="round"/>
<line x1="1570.8" y1="1834.0" x2="1570.8" y2="1809.3" stroke="#000" stroke-width="4.2" stroke-linecap="butt"/>
<line x1="1558.4" y1="1809.3" x2="1583.2" y2="1809.3" stroke="#000" stroke-width="4.5" stroke-linecap="butt"/>
<line x1="1570.8" y1="1834.0" x2="1570.8" y2="1858.6" stroke="#000" stroke-width="4.2" stroke-linecap="butt"/>
<line x1="1558.4" y1="1858.6" x2="1583.2" y2="1858.6" stroke="#000" stroke-width="4.5" stroke-linecap="butt"/>
<line x1="1720.7" y1="1805.3" x2="1720.7" y2="1779.4" stroke="#000" stroke-width="4.2" stroke-linecap="butt"/>
<line x1="1708.3" y1="1779.4" x2="1733.1" y2="1779.4" stroke="#000" stroke-width="4.5" stroke-linecap="butt"/>
<line x1="1720.7" y1="1805.3" x2="1720.7" y2="1831.3" stroke="#000" stroke-width="4.2" stroke-linecap="butt"/>
<line x1="1708.3" y1="1831.3" x2="1733.1" y2="1831.3" stroke="#000" stroke-width="4.5" stroke-linecap="butt"/>
<line x1="1870.6" y1="1741.4" x2="1870.6" y2="1715.5" stroke="#000" stroke-width="4.2" stroke-linecap="butt"/>
<line x1="1858.2" y1="1715.5" x2="1883.0" y2="1715.5" stroke="#000" stroke-width="4.5" stroke-linecap="butt"/>
<line x1="1870.6" y1="1741.4" x2="1870.6" y2="1767.4" stroke="#000" stroke-width="4.2" stroke-linecap="butt"/>
<line x1="1858.2" y1="1767.4" x2="1883.0" y2="1767.4" stroke="#000" stroke-width="4.5" stroke-linecap="butt"/>
<line x1="2020.6" y1="1699.5" x2="2020.6" y2="1678.2" stroke="#000" stroke-width="4.2" stroke-linecap="butt"/>
<line x1="2008.2" y1="1678.2" x2="2033.0" y2="1678.2" stroke="#000" stroke-width="4.5" stroke-linecap="butt"/>
<line x1="2020.6" y1="1699.5" x2="2020.6" y2="1720.8" stroke="#000" stroke-width="4.2" stroke-linecap="butt"/>
<line x1="2008.2" y1="1720.8" x2="2033.0" y2="1720.8" stroke="#000" stroke-width="4.5" stroke-linecap="butt"/>
<line x1="2170.5" y1="1622.0" x2="2170.5" y2="1591.4" stroke="#000" stroke-width="4.2" stroke-linecap="butt"/>
<line x1="2158.1" y1="1591.4" x2="2182.9" y2="1591.4" stroke="#000" stroke-width="4.5" stroke-linecap="butt"/>
<line x1="2170.5" y1="1622.0" x2="2170.5" y2="1652.6" stroke="#000" stroke-width="4.2" stroke-linecap="butt"/>
<line x1="2158.1" y1="1652.6" x2="2182.9" y2="1652.6" stroke="#000" stroke-width="4.5" stroke-linecap="butt"/>
<line x1="2215.6" y1="1567.0" x2="2215.6" y2="1535.0" stroke="#000" stroke-width="4.2" stroke-linecap="butt"/>
<line x1="2203.2" y1="1535.0" x2="2228.0" y2="1535.0" stroke="#000" stroke-width="4.5" stroke-linecap="butt"/>
<line x1="2215.6" y1="1567.0" x2="2215.6" y2="1598.9" stroke="#000" stroke-width="4.2" stroke-linecap="butt"/>
<line x1="2203.2" y1="1598.9" x2="2228.0" y2="1598.9" stroke="#000" stroke-width="4.5" stroke-linecap="butt"/>
<polygon points="1420.8,1979.4 1433.2,1952.6 1408.4,1952.6" fill="#000"/>
<polygon points="1570.8,1847.4 1583.2,1820.6 1558.4,1820.6" fill="#000"/>
<polygon points="1720.7,1818.7 1733.1,1791.9 1708.3,1791.9" fill="#000"/>
<polygon points="1870.6,1754.8 1883.0,1728.0 1858.2,1728.0" fill="#000"/>
<polygon points="2020.6,1712.9 2033.0,1686.1 2008.2,1686.1" fill="#000"/>
<polygon points="2170.5,1635.4 2182.9,1608.6 2158.1,1608.6" fill="#000"/>
<polygon points="2215.6,1580.4 2228.0,1553.6 2203.2,1553.6" fill="#000"/>
<line x1="1438.0" y1="1438.9" x2="1503.0" y2="1438.9" stroke="#000" stroke-width="5" stroke-linecap="butt"/>
<ellipse cx="1470.3" cy="1438.9" rx="12.4" ry="13.4" fill="#000"/>
<text x="1536.5" y="1459.2" font-family='"Liberation Sans", sans-serif' font-size="56.0" font-weight="bold" textLength="289.0" lengthAdjust="spacingAndGlyphs" stroke="#000" stroke-width="0.5" stroke-linejoin="round">Akita/rVEGF</text>
<line x1="1438.0" y1="1512.5" x2="1503.0" y2="1512.5" stroke="#000" stroke-width="5" stroke-linecap="butt"/>
<rect x="1457.9" y="1499.1" width="24.8" height="26.8" fill="#000"/>
<text x="1536.5" y="1532.5" font-family='"Liberation Sans", sans-serif' font-size="56.0" font-weight="bold" textLength="301.9" lengthAdjust="spacingAndGlyphs" stroke="#000" stroke-width="0.5" stroke-linejoin="round">Akita/Vehicle</text>
<line x1="1438.0" y1="1578.9" x2="1503.0" y2="1578.9" stroke="#000" stroke-width="5" stroke-linecap="butt"/>
<polygon points="1470.3,1565.5 1482.7,1592.3 1457.9,1592.3" fill="#000"/>
<text x="1539.7" y="1598.2" font-family='"Liberation Sans", sans-serif' font-size="56.0" font-weight="bold" textLength="265.8" lengthAdjust="spacingAndGlyphs" stroke="#000" stroke-width="0.5" stroke-linejoin="round">WT-/rVEGF</text>
<line x1="1436.2" y1="1646.0" x2="1499.6" y2="1646.0" stroke="#000" stroke-width="5" stroke-linecap="butt"/>
<polygon points="1467.9,1659.4 1480.3,1632.6 1455.5,1632.6" fill="#000"/>
<text x="1536.2" y="1666.5" font-family='"Liberation Sans", sans-serif' font-size="56.0" font-weight="bold" textLength="262.2" lengthAdjust="spacingAndGlyphs" stroke="#000" stroke-width="0.5" stroke-linejoin="round">WT/Vehicle</text>
<text x="1448.4" y="1736.2" font-family='"Liberation Sans", sans-serif' font-size="54.7" font-weight="bold" textLength="117.5" lengthAdjust="spacingAndGlyphs" stroke="#000" stroke-width="0.5" stroke-linejoin="round">n &gt; 8</text>
<rect x="1493.2" y="1735.4" width="31.0" height="2.2" fill="#000"/>
<text x="1216.9" y="1906.4" font-family='"Liberation Sans", sans-serif' font-size="50.0" font-weight="bold" textLength="388.1" lengthAdjust="spacingAndGlyphs" transform="rotate(-90 1216.9 1906.4)">Amplitude (µV)</text>
<text x="1737.8" y="2222.0" font-family='"Liberation Sans", sans-serif' font-size="55.7" font-weight="bold" textLength="158.5" lengthAdjust="spacingAndGlyphs" stroke="#000" stroke-width="0.5" stroke-linejoin="round">cd.s/m</text>
<text x="1895.0" y="2196.8" font-family='"Liberation Sans", sans-serif' font-size="41.5" font-weight="bold" textLength="20.5" lengthAdjust="spacingAndGlyphs" stroke="#000" stroke-width="0.5" stroke-linejoin="round">2</text>
<text x="1181.7" y="1357.0" font-family='"Liberation Sans", sans-serif' font-size="62.4" font-weight="bold" textLength="54.5" lengthAdjust="spacingAndGlyphs">C</text>
<text x="1550.9" y="1806.9" font-family='"DejaVu Sans", "Liberation Sans", sans-serif' font-size="69.4" font-weight="bold" textLength="40.6" lengthAdjust="spacingAndGlyphs">*</text>
<text x="1670.3" y="1777.5" font-family='"DejaVu Sans", "Liberation Sans", sans-serif' font-size="69.4" font-weight="bold" textLength="40.6" lengthAdjust="spacingAndGlyphs">*</text>
<text x="1723.6" y="1777.5" font-family='"DejaVu Sans", "Liberation Sans", sans-serif' font-size="69.4" font-weight="bold" textLength="40.6" lengthAdjust="spacingAndGlyphs">*</text>
<text x="1817.9" y="1715.5" font-family='"DejaVu Sans", "Liberation Sans", sans-serif' font-size="69.4" font-weight="bold" textLength="40.6" lengthAdjust="spacingAndGlyphs">*</text>
<text x="1871.2" y="1715.5" font-family='"DejaVu Sans", "Liberation Sans", sans-serif' font-size="69.4" font-weight="bold" textLength="40.6" lengthAdjust="spacingAndGlyphs">*</text>
<text x="1963.9" y="1676.5" font-family='"DejaVu Sans", "Liberation Sans", sans-serif' font-size="69.4" font-weight="bold" textLength="40.6" lengthAdjust="spacingAndGlyphs">*</text>
<text x="2017.2" y="1676.5" font-family='"DejaVu Sans", "Liberation Sans", sans-serif' font-size="69.4" font-weight="bold" textLength="40.6" lengthAdjust="spacingAndGlyphs">*</text>
<text x="2089.6" y="1597.1" font-family='"DejaVu Sans", "Liberation Sans", sans-serif' font-size="69.4" font-weight="bold" textLength="40.6" lengthAdjust="spacingAndGlyphs">*</text>
<text x="2142.9" y="1597.1" font-family='"DejaVu Sans", "Liberation Sans", sans-serif' font-size="69.4" font-weight="bold" textLength="40.6" lengthAdjust="spacingAndGlyphs">*</text>
<text x="2142.2" y="1527.0" font-family='"DejaVu Sans", "Liberation Sans", sans-serif' font-size="69.4" font-weight="bold" textLength="40.6" lengthAdjust="spacingAndGlyphs">*</text>
<text x="2195.5" y="1527.0" font-family='"DejaVu Sans", "Liberation Sans", sans-serif' font-size="69.4" font-weight="bold" textLength="40.6" lengthAdjust="spacingAndGlyphs">*</text>
<text x="2248.8" y="1527.0" font-family='"DejaVu Sans", "Liberation Sans", sans-serif' font-size="69.4" font-weight="bold" textLength="40.6" lengthAdjust="spacingAndGlyphs">*</text>
</svg>
</body></html>
